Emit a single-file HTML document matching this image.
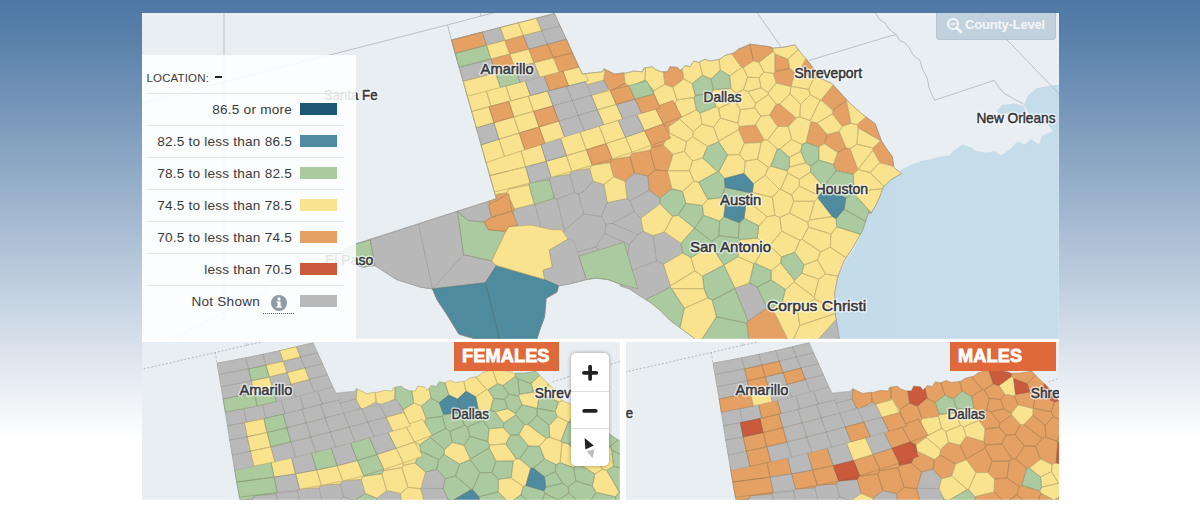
<!DOCTYPE html>
<html><head><meta charset="utf-8">
<style>
html,body{margin:0;padding:0;}
body{width:1200px;height:514px;overflow:hidden;background:linear-gradient(to bottom,#4f78a5 0px,#567ea9 30px,#ffffff 440px,#ffffff 514px);font-family:"Liberation Sans",sans-serif;position:relative;}
#wrap{position:absolute;left:142px;top:13px;width:917px;height:486.7px;background:#fff;}
svg.map{position:absolute;left:0;top:0;}
.bd{fill:none;stroke:rgb(100,95,70);stroke-width:.85px;stroke-linejoin:round;}
.lh{font-family:"Liberation Sans",sans-serif;fill:#fff;stroke:#fff;stroke-opacity:.72;fill-opacity:.72;stroke-width:3px;stroke-linejoin:round;}
.lf{font-family:"Liberation Sans",sans-serif;fill:#33353a;stroke:#33353a;stroke-width:.5px;}
#legend{position:absolute;left:142px;top:55px;width:214px;height:283.6px;background:rgba(255,255,255,.87);}
#legend .loc{position:absolute;left:4.5px;top:16.5px;font-size:11.5px;color:#3b3b3b;letter-spacing:.15px;}
#legend .loc b{font-size:14px;position:relative;top:0px;margin-left:7px;color:#222}
#legend .row{position:absolute;left:5px;width:197px;height:32px;border-top:1px solid #e1e4e8;box-sizing:border-box;}
#legend .row span{position:absolute;right:52px;top:7.5px;font-size:13.6px;color:#3a3a3a;white-space:nowrap;letter-spacing:.22px}
#legend .row i{position:absolute;left:153px;top:9px;width:37px;height:12px;display:block;}
.tag{position:absolute;top:342px;height:29px;background:#df693b;color:#fff;font-weight:bold;font-size:18.2px;line-height:29px;letter-spacing:.1px;}
.tag span{display:inline-block;-webkit-text-stroke:.8px #fff;}
#zc{position:absolute;left:571px;top:353px;width:38px;height:113px;background:#fff;border-radius:5px;box-shadow:0 0 4px rgba(0,0,0,.35);}
#zc div{position:absolute;left:0;width:38px;border-top:1px solid #ddd;}
#cl{position:absolute;left:936px;top:12.5px;width:119.6px;height:27px;border-radius:0 0 4px 4px;background:rgba(184,201,216,.8);border:1px solid rgba(175,193,210,.7);border-top:none;box-sizing:border-box;}
#cl span{position:absolute;left:28px;top:4px;font-size:13px;font-weight:bold;color:#fff;letter-spacing:-.2px;white-space:nowrap;opacity:.82}
</style></head><body>
<div id="wrap"></div>
<svg class="map" width="1200" height="514" viewBox="0 0 1200 514">
<defs>
<clipPath id="cm"><rect x="142" y="13" width="916.8" height="325.7"/></clipPath>
<clipPath id="cl1"><rect x="142" y="342" width="477.8" height="157.7"/></clipPath>
<clipPath id="cr1"><rect x="626" y="342" width="433" height="157.7"/></clipPath>
</defs>
<g clip-path="url(#cm)">
<rect x="142" y="13" width="918" height="326" fill="#e9eef2"/>
<path d="M836.0,345.0L834.0,318.0L833.5,298.0L838.0,276.0L846.0,260.0L854.0,249.0L862.0,232.0L869.0,212.0L876.0,203.0L880.0,196.0L883.0,187.0L891.0,180.0L898.0,175.0L901.6,173.6L900.0,170.4L910.9,164.9L921.8,160.8L930.0,159.5L938.1,156.7L949.0,155.4L954.5,149.9L962.7,144.5L970.8,147.2L976.3,151.3L987.2,152.6L995.4,151.3L1000.8,155.4L1009.0,149.9L1017.2,141.7L1025.3,144.5L1030.8,139.0L1039.0,144.5L1041.7,136.3L1052.6,130.8L1062.0,128.1L1062.0,345.0Z" fill="#c5dcea"/>
<path d="M1024.0,105.0L1028.1,95.4L1036.2,88.6L1047.1,85.9L1062.0,84.5L1062.0,130.8L1052.6,130.8L1047.1,124.0L1039.0,125.4L1030.8,118.6L1028.1,111.8Z" fill="#c5dcea"/>
<path d="M996.7,110.4L1002.2,105.0L1014.4,103.6L1024.0,106.3L1026.7,113.1L1017.2,114.5L1007.6,113.1L999.5,114.5Z" fill="#c5dcea"/>
<path d="M130.0,106.0L447.5,24.9L492.5,13.0L520.0,5.9M447.5,24.9L451.5,40.2M481.0,16.0L479.5,10.0M554.4,13.6L551.0,5.0M757.5,13.0L770.0,31.0L781.0,47.0M809.0,60.5L890.0,36.0L896.4,34.8M872.0,8.0L880.0,20.0L885.0,23.0L889.0,29.0L896.4,34.8L899.0,40.0L905.0,43.0L909.0,47.5L913.0,55.0L920.0,60.3L922.0,68.0L927.3,78.5L929.0,88.0L934.5,100.3M934.5,100.3L994.5,80.3L998.0,86.0L1003.6,93.0L1012.0,98.0L1023.6,104.0M979.0,10.7L981.2,13.0L1062.0,97.1M224.0,5.0L224.0,322.0M172.5,338.8L266.0,292.0L266.0,283.0L295.0,276.0L357.0,245.0" fill="none" stroke="#aeb4ba" stroke-width="0.8"/>
<defs><path id="k1" d="M468.4,50.6L468.4,50.6L468.4,50.6L468.4,50.6L468.4,50.6L468.4,50.6L468.4,50.6L468.4,50.6L468.4,50.6L468.4,50.6L468.4,50.6L486.0,45.1L486.0,45.1L486.0,45.1L486.0,45.1L486.0,45.1L486.0,45.1L486.0,45.1L486.0,45.1L486.0,45.1L486.0,45.1L486.0,45.1L486.0,45.1L486.0,45.1L486.0,45.1L486.0,45.1L486.0,45.1L486.0,45.1L482.5,32.0L482.5,32.0L482.5,32.0L482.5,32.0L482.5,32.0L482.5,32.0L482.5,32.0L482.5,32.0L482.5,32.0L482.5,32.0L482.5,32.0L482.5,32.0L482.5,32.0L482.5,32.0L482.5,32.0L482.5,32.0L482.5,32.0L464.3,36.7L451.5,40.0L451.5,40.0L451.5,40.0L451.5,40.0L451.5,40.0L451.5,40.0L451.5,40.0L451.5,40.0L451.5,40.0L451.5,40.0L451.5,40.0L451.5,40.0L451.5,40.0L451.5,40.0L451.5,40.0L451.5,40.0L451.5,40.0L455.3,53.6L455.3,53.6L455.3,53.6L455.3,53.6L455.3,53.6L455.3,53.6L455.3,53.6L455.3,53.6L455.3,53.6L455.3,53.6L455.3,53.6L455.3,53.6L455.3,53.6L455.3,53.6L455.4,53.6L455.4,53.6L455.4,53.6L467.8,50.1ZM527.6,48.5L524.5,36.7L522.3,35.1L505.8,41.3L509.0,53.6L510.7,54.9ZM510.7,54.9L509.0,53.6L491.6,59.6L495.1,72.7L496.3,73.7L514.0,67.5ZM548.9,45.3L546.1,43.4L529.8,50.1L533.0,62.3L535.3,63.9L552.0,57.1ZM548.9,45.3L552.0,57.1L554.8,59.1L571.7,51.5L566.2,39.2L565.6,37.9ZM557.7,70.0L564.5,73.5L577.9,64.9L576.9,63.0L571.7,51.5L554.8,59.1ZM567.6,86.2L564.5,73.5L557.7,70.0L545.7,78.5L548.7,90.8L567.6,86.3ZM494.0,123.0L513.4,116.8L509.3,102.2L490.5,105.5L489.4,107.8L493.7,122.8ZM558.0,120.8L553.9,106.6L552.2,105.4L534.2,111.9L538.5,126.8L539.6,127.5ZM539.6,127.5L538.5,126.8L519.4,133.4L524.0,147.9L541.8,146.3L544.1,142.2ZM603.8,80.2L608.6,89.3L611.3,90.6L625.0,83.2L624.0,73.0L622.5,73.0L615.0,74.2L610.0,71.8L604.9,69.2ZM633.3,98.3L630.3,87.0L625.0,83.2L611.3,90.6L614.9,103.7L617.7,105.5ZM683.7,78.9L682.1,68.7L680.0,71.1L677.5,67.4L670.0,66.8L667.5,71.8L663.4,71.8L664.8,84.3L672.8,87.3ZM741.6,67.5L743.1,67.8L753.4,60.7L749.8,44.3L740.0,48.6L740.0,48.0L733.8,53.0L731.6,53.6ZM653.4,92.2L636.7,100.4L640.3,113.1L657.3,110.4L659.2,106.1ZM659.2,106.1L657.3,110.4L662.0,123.3L668.5,126.7L679.6,119.0L679.9,117.8L675.1,103.1ZM591.7,165.3L609.8,162.7L611.8,159.5L606.9,144.3L605.3,143.3L587.1,150.3ZM609.8,162.7L613.7,176.8L625.0,181.3L634.4,173.2L629.9,156.6L611.8,159.5ZM669.4,133.2L668.5,126.7L662.0,123.3L645.6,131.4L651.5,147.7L663.2,145.1ZM739.4,126.6L738.6,129.6L744.4,143.1L761.3,142.4L764.2,140.0L755.5,125.1ZM649.8,150.2L631.7,153.6L629.9,156.6L634.4,173.2L647.8,176.0L655.2,169.8ZM651.5,147.7L649.8,150.2L655.2,169.8L667.4,171.0L667.9,170.7L673.0,154.4L663.2,145.1ZM773.1,51.4L772.9,48.0L772.5,48.0L770.0,46.8L756.2,44.9L750.0,44.2L749.8,44.3L753.4,60.7L759.0,62.4ZM788.1,59.3L775.0,54.0L775.0,71.6L789.7,68.5ZM791.1,86.3L794.8,72.6L789.7,68.5L775.0,71.6L773.5,73.4L776.2,83.0L790.9,86.5ZM799.9,71.0L813.5,78.8L817.7,77.1L817.5,77.0L815.0,70.5L807.5,60.5L806.0,58.8ZM846.3,100.5L846.7,99.7L833.2,85.1L821.1,99.9L832.8,110.3ZM779.6,104.1L776.2,104.3L769.6,115.1L777.7,126.5L788.4,126.5L796.0,118.0ZM832.3,113.9L842.3,126.3L851.0,123.4L846.3,100.5L832.8,110.3ZM881.2,140.3L875.2,123.8L866.1,117.0L857.1,124.6L858.3,127.9L880.6,140.7ZM873.0,150.1L879.9,162.6L893.7,166.3L892.3,156.5L887.6,150.3L881.4,140.9L881.2,140.3L880.6,140.7L873.2,148.0ZM806.2,142.6L818.8,147.0L824.2,143.5L827.2,134.6L816.9,123.1L811.0,121.6ZM837.8,152.5L846.0,147.8L839.1,131.4L827.2,134.6L824.2,143.5ZM836.2,170.6L853.3,174.2L857.9,169.6L849.9,148.6L846.0,147.8L837.8,152.5L833.5,164.5ZM647.8,176.0L649.3,190.4L659.8,198.1L671.8,188.6L667.4,171.0L655.2,169.8ZM494.0,213.9L513.0,212.4L514.5,209.1L506.9,192.7L495.2,194.7L496.3,198.7L488.6,201.2ZM494.0,213.9L445.1,311.7L446.5,313.8L458.9,334.1L474.5,338.7L474.5,345.0L503.3,345.0L525.0,298.0L513.0,212.4ZM748.0,320.9L746.9,323.2L749.3,345.0L790.5,345.0L771.9,307.9L767.0,307.9Z"/></defs><use href="#k1" fill="#e5a164" stroke="#e5a164" stroke-width="0.4"/>
<defs><path id="k2" d="M500.8,27.4L482.5,32.0L486.0,45.1L487.1,46.0L504.1,40.1ZM540.5,30.1L543.1,32.0L559.5,24.7L554.4,13.6L537.3,18.0ZM543.1,32.0L540.5,30.1L524.5,36.7L527.6,48.5L529.8,50.1L546.1,43.4ZM543.1,32.0L546.1,43.4L548.9,45.3L565.6,37.9L559.5,24.7ZM476.8,78.5L476.8,78.5L476.8,78.5L476.8,78.5L476.8,78.5L476.8,78.5L476.8,78.5L476.8,78.5L476.8,78.5L476.8,78.5L495.1,72.7L495.1,72.7L495.1,72.7L495.1,72.7L495.1,72.7L495.1,72.7L495.1,72.7L495.1,72.7L495.1,72.7L495.1,72.7L495.1,72.7L495.1,72.7L495.1,72.7L495.1,72.7L495.1,72.7L495.1,72.7L495.1,72.7L491.6,59.6L491.6,59.6L491.6,59.6L491.6,59.6L491.6,59.6L491.6,59.6L491.6,59.6L491.6,59.6L490.4,58.7L490.4,58.7L490.4,58.7L490.4,58.7L490.4,58.7L490.4,58.7L490.4,58.7L490.4,58.7L490.4,58.7L490.4,58.7L490.4,58.7L472.5,64.3L471.9,63.8L471.9,63.8L471.9,63.8L471.9,63.8L471.9,63.8L471.9,63.8L471.9,63.8L471.9,63.8L471.9,63.8L471.9,63.8L471.9,63.8L459.2,67.4L459.2,67.4L459.2,67.4L459.2,67.4L459.2,67.4L459.2,67.4L459.2,67.4L459.2,67.4L459.2,67.4L459.2,67.4L459.2,67.4L459.2,67.4L459.2,67.4L459.2,67.4L459.2,67.4L459.2,67.4L459.2,67.4L463.2,81.6L463.2,81.6L463.2,81.6L463.2,81.6L463.2,81.6L463.2,81.6L463.2,81.6L463.2,81.6L463.2,81.6L463.2,81.6L463.2,81.6L463.2,81.6L463.2,81.6L463.2,81.6L463.3,81.6L463.3,81.6L463.3,81.6L476.1,78.0L476.8,78.5ZM526.5,83.6L538.2,74.8L535.3,63.9L533.0,62.3L515.8,68.8L518.7,79.7ZM529.5,95.5L548.4,91.4L548.7,90.8L545.7,78.5L538.2,74.8L526.5,83.6ZM567.6,86.3L548.7,90.8L548.4,91.4L552.2,105.4L553.9,106.6L571.2,100.0ZM588.9,95.1L587.2,84.8L584.6,81.8L567.6,86.2L567.6,86.3L571.2,100.0L573.4,101.4ZM588.9,95.1L593.1,98.1L608.6,89.3L603.8,80.2L587.2,84.8ZM499.0,139.5L494.0,123.0L493.7,122.8L476.3,128.0L481.1,144.9ZM577.2,114.9L573.4,101.4L571.2,100.0L553.9,106.6L558.0,120.8L559.5,121.7ZM577.2,114.9L579.1,116.2L596.1,109.2L593.1,98.1L588.9,95.1L573.4,101.4ZM583.5,130.7L579.1,116.2L577.2,114.9L559.5,121.7L564.0,136.5L581.2,134.4ZM600.6,128.5L602.7,124.8L598.5,110.7L596.1,109.2L579.1,116.2L583.5,130.7ZM633.3,98.3L617.7,105.5L621.7,119.0L638.6,116.5L640.3,113.1L636.7,100.4ZM619.7,122.5L624.5,136.8L626.4,138.0L643.4,130.2L638.6,116.5L621.7,119.0ZM544.1,142.2L541.8,146.3L545.8,161.2L546.5,161.8L566.0,155.5L561.7,140.4ZM529.9,182.9L549.3,179.6L550.7,177.0L546.5,161.8L545.8,161.2L525.8,167.1ZM569.6,174.3L550.7,177.0L549.3,179.6L554.4,198.1L556.8,199.3L574.5,192.3ZM578.6,194.0L583.6,191.7L593.2,181.3L589.7,168.6L571.3,171.1L569.6,174.3L574.5,192.3ZM634.4,173.2L625.0,181.3L627.1,198.6L630.0,200.7L649.3,190.4L647.8,176.0ZM649.3,190.4L630.0,200.7L634.0,211.5L640.8,218.3L660.1,203.8L659.8,198.1ZM601.4,216.2L605.7,224.2L612.3,223.4L634.0,211.5L630.0,200.7L627.1,198.6L607.4,202.6L607.0,203.1ZM643.3,231.4L640.8,218.3L634.0,211.5L612.3,223.4L638.1,234.7ZM494.0,213.9L488.6,201.2L356.2,243.8L339.1,252.2L346.9,261.5L362.4,267.1L374.9,265.6L396.7,279.6L421.6,287.4L432.5,288.9L437.1,299.8L445.1,311.7ZM535.0,204.4L534.3,204.1L514.5,209.1L513.0,212.4L525.0,298.0L549.5,261.6ZM556.8,199.3L554.4,198.1L535.0,204.4L549.5,261.6L552.9,258.4L564.6,230.1ZM556.8,199.3L564.6,230.1L583.7,214.2L578.6,194.0L574.5,192.3ZM607.4,202.6L607.4,202.6L607.4,202.6L607.4,202.6L607.4,202.6L607.4,202.6L607.4,202.6L607.4,202.6L607.4,202.6L607.4,202.6L603.9,184.5L603.9,184.5L603.9,184.5L603.9,184.5L603.9,184.5L603.9,184.5L603.9,184.5L603.9,184.5L603.9,184.5L603.9,184.5L603.9,184.5L603.9,184.5L593.2,181.3L593.2,181.3L593.2,181.3L593.2,181.3L593.2,181.3L593.2,181.3L593.2,181.3L593.2,181.3L593.2,181.3L593.2,181.3L593.2,181.3L593.2,181.3L583.6,191.6L578.6,194.0L578.6,194.0L578.6,194.0L578.6,194.0L578.6,194.0L578.6,194.0L578.6,194.0L578.6,194.0L578.6,194.0L578.6,194.0L578.6,194.0L578.6,194.0L578.6,194.0L578.6,194.0L578.6,194.0L583.7,214.2L583.7,214.2L583.7,214.2L583.7,214.2L583.7,214.2L583.7,214.2L583.7,214.2L583.7,214.2L583.7,214.2L583.7,214.2L583.7,214.2L583.7,214.2L583.7,214.2L601.4,216.2L601.4,216.2L601.4,216.2L601.4,216.2L601.4,216.2L601.4,216.2L601.4,216.2L601.4,216.2L601.4,216.2L601.4,216.2L601.4,216.2L601.4,216.2L601.4,216.2L601.4,216.2L607.0,203.1ZM552.9,258.4L595.6,247.0L604.7,233.3L605.7,224.2L601.4,216.2L583.7,214.2L564.6,230.1ZM612.3,223.4L605.7,224.2L604.7,233.3L629.5,244.5L638.1,234.7ZM629.5,244.5L604.7,233.3L595.6,247.0L624.8,270.7ZM629.5,244.5L624.8,270.7L625.5,272.7L656.7,260.9L653.0,235.7L643.3,231.4L638.1,234.7ZM681.0,243.4L664.3,231.9L653.0,235.7L656.7,260.9L663.4,264.2L682.7,252.9ZM670.0,287.3L670.3,286.0L663.4,264.2L656.7,260.9L625.5,272.7L622.5,286.7L629.3,288.9L638.7,295.2L645.7,299.6ZM625.5,272.7L624.8,270.7L595.6,247.0L552.9,258.4L549.5,261.6L525.0,298.0L503.3,345.0L536.7,345.0L536.7,339.4L539.9,329.4L544.5,316.9L546.1,298.3L557.0,292.0L558.5,285.8L567.9,284.3L586.5,279.6L595.9,278.0L608.3,279.6L620.8,284.3L620.0,285.8L622.5,286.7ZM735.0,288.2L734.8,288.7L748.0,320.9L767.0,307.9L757.3,287.0L749.4,283.1ZM813.2,345.0L839.4,345.0L839.4,339.4L837.9,329.4L836.2,319.4Z"/></defs><use href="#k2" fill="#b9b9b9" stroke="#b9b9b9" stroke-width="0.4"/>
<defs><path id="k3" d="M522.3,35.1L519.0,22.7L500.8,27.4L504.1,40.1L505.8,41.3ZM540.5,30.1L537.3,18.0L519.0,22.7L522.3,35.1L524.5,36.7ZM504.1,40.1L487.1,46.0L490.4,58.7L491.6,59.6L509.0,53.6L505.8,41.3ZM529.8,50.1L527.6,48.5L510.7,54.9L514.0,67.5L515.8,68.8L533.0,62.3ZM496.3,73.6L496.3,73.6L496.3,73.6L496.3,73.6L496.3,73.6L496.3,73.6L496.3,73.6L495.1,72.7L495.1,72.7L495.1,72.7L495.1,72.7L495.1,72.7L495.1,72.7L495.1,72.7L495.1,72.7L495.1,72.7L495.1,72.7L495.1,72.7L476.8,78.5L476.1,78.0L476.1,78.0L476.1,78.0L476.1,78.0L476.1,78.0L476.1,78.0L476.1,78.0L476.1,78.0L476.1,78.0L476.1,78.0L463.2,81.6L463.2,81.6L463.2,81.6L463.2,81.6L463.2,81.6L463.2,81.6L463.2,81.6L463.2,81.6L463.2,81.6L463.2,81.6L463.2,81.6L463.2,81.6L463.2,81.6L463.2,81.6L463.2,81.6L463.2,81.6L463.2,81.6L468.1,98.7L468.1,98.7L468.1,98.7L468.1,98.7L468.1,98.7L468.1,98.7L468.1,98.7L468.1,98.7L468.1,98.7L468.1,98.7L468.1,98.7L468.1,98.7L468.1,98.7L468.1,98.7L468.1,98.7L468.1,98.7L468.1,98.7L468.1,98.7L468.1,98.7L468.1,98.7L468.1,98.7L479.8,90.0L487.4,94.0L487.4,94.0L487.4,94.0L487.4,94.0L487.4,94.0L487.4,94.0L487.4,94.0L487.4,94.0L487.4,94.0L487.4,94.0L487.4,94.0L487.4,94.0L487.4,94.0L499.2,84.8L499.2,84.8L499.2,84.8L499.2,84.8L499.2,84.8L499.2,84.8L499.2,84.8L499.2,84.8L499.2,84.8L499.2,84.8L499.2,84.8L499.2,84.8L499.2,84.8L496.3,73.6ZM535.3,63.9L538.2,74.8L545.7,78.5L557.7,70.0L554.8,59.1L552.0,57.1ZM489.4,107.8L490.5,105.5L487.4,94.0L479.8,90.0L468.1,98.7L471.5,110.7ZM499.2,84.8L487.4,94.0L490.5,105.5L509.3,102.2L510.1,100.4L507.1,88.8ZM507.1,88.8L510.1,100.4L529.0,96.7L529.5,95.5L526.5,83.6L518.7,79.7ZM564.5,73.5L567.6,86.2L584.6,81.8L584.7,73.8L582.5,74.2L577.9,64.9ZM493.7,122.8L489.4,107.8L471.5,110.7L476.3,128.0ZM529.0,96.7L510.1,100.4L509.3,102.2L513.4,116.8L514.2,117.4L532.9,111.0ZM529.5,95.5L529.0,96.7L532.9,111.0L534.2,111.9L552.2,105.4L548.4,91.4ZM499.0,139.5L499.0,139.5L518.9,133.1L514.2,117.4L513.4,116.8L494.0,123.0ZM519.4,133.4L538.5,126.8L534.2,111.9L532.9,111.0L514.2,117.4L518.9,133.1ZM611.3,90.6L608.6,89.3L593.1,98.1L596.1,109.2L598.5,110.7L614.9,103.7ZM564.0,136.5L559.5,121.7L558.0,120.8L539.6,127.5L544.1,142.2L561.7,140.4ZM614.9,103.7L598.5,110.7L602.7,124.8L619.7,122.5L621.7,119.0L617.7,105.5ZM644.9,80.2L645.5,67.8L643.8,68.0L642.5,71.8L633.8,71.1L626.2,73.0L624.0,73.0L625.0,83.2L630.3,87.0ZM663.4,71.8L661.2,71.8L655.0,69.2L652.5,66.8L645.5,67.8L644.9,80.2L653.8,90.8L664.8,84.3ZM699.3,62.1L698.8,62.4L693.8,61.1L690.0,66.8L685.0,65.5L682.1,68.7L683.7,78.9L692.1,83.5L702.6,75.2ZM720.3,70.2L719.0,59.4L710.0,61.1L705.0,59.2L699.3,62.1L702.6,75.2L711.0,79.1ZM731.6,53.6L725.0,55.5L720.0,59.2L719.0,59.4L720.3,70.2L729.6,75.8L741.6,67.5ZM672.8,87.3L664.8,84.3L653.8,90.8L653.4,92.2L659.2,106.1L675.1,103.1L676.9,99.9ZM694.0,97.5L695.3,95.5L692.1,83.5L683.7,78.9L672.8,87.3L676.9,99.9ZM743.1,67.8L741.6,67.5L729.6,75.8L730.9,88.4L736.0,92.8L743.4,89.9L747.7,77.2ZM759.0,77.7L763.9,72.0L759.0,62.4L753.4,60.7L743.1,67.8L747.7,77.2ZM743.4,89.9L747.8,91.5L761.1,87.8L759.0,77.7L747.7,77.2ZM768.3,92.7L761.1,87.8L747.8,91.5L755.6,103.3L768.5,94.4ZM675.1,103.1L679.9,117.8L696.4,109.9L694.0,97.5L676.9,99.9ZM715.9,106.6L718.6,108.4L734.8,100.9L736.0,92.8L730.9,88.4L713.5,89.7L711.1,93.4ZM734.8,100.9L718.6,108.4L720.4,118.0L737.8,123.1L740.3,109.7ZM743.4,89.9L736.0,92.8L734.8,100.9L740.3,109.7L754.5,107.9L755.6,103.3L747.8,91.5ZM740.3,109.7L737.8,123.1L739.4,126.6L755.5,125.1L760.9,116.1L754.5,107.9ZM640.3,113.1L638.6,116.5L643.4,130.2L645.6,131.4L662.0,123.3L657.3,110.4ZM679.6,119.0L693.4,131.5L702.1,124.2L700.1,113.0L696.4,109.9L679.9,117.8ZM713.5,127.2L720.4,118.0L718.6,108.4L715.9,106.6L700.1,113.0L702.1,124.2ZM501.3,158.2L503.5,153.6L499.0,139.5L499.0,139.5L481.1,144.9L485.1,159.0ZM524.0,147.9L519.4,133.4L518.9,133.1L499.0,139.5L503.5,153.6L521.7,152.3ZM521.7,152.3L521.7,152.3L521.7,152.3L521.7,152.3L521.7,152.3L521.7,152.3L521.7,152.3L521.7,152.3L521.7,152.3L521.7,152.3L521.7,152.2L521.7,152.2L521.7,152.2L521.7,152.2L503.5,153.6L503.5,153.6L503.5,153.6L503.5,153.6L503.5,153.6L503.5,153.6L503.5,153.6L503.5,153.6L503.5,153.6L503.5,153.6L503.5,153.6L503.5,153.6L501.3,158.2L485.1,159.0L485.1,159.0L485.1,159.0L485.1,159.0L485.1,159.0L485.1,159.0L485.1,159.0L485.1,159.0L485.1,159.0L485.1,159.0L485.1,159.0L485.1,159.0L485.1,159.0L485.1,159.0L485.1,159.0L485.1,159.0L485.1,159.0L485.1,159.0L485.1,159.0L489.8,175.6L489.8,175.6L489.8,175.7L489.8,175.7L489.8,175.7L489.8,175.7L489.8,175.7L489.8,175.7L489.8,175.7L489.8,175.7L489.8,175.7L489.8,175.7L489.8,175.7L489.8,175.7L489.8,175.7L489.8,175.7L489.8,175.7L504.7,172.2L504.8,172.3L504.8,172.3L504.8,172.3L504.8,172.3L504.8,172.3L504.8,172.3L504.8,172.3L504.8,172.3L504.8,172.3L504.8,172.3L525.4,166.8L525.4,166.8L525.4,166.8L525.4,166.8L525.4,166.8L525.4,166.8L525.4,166.8L525.4,166.8L525.4,166.8L525.4,166.8L525.4,166.8L525.4,166.8L525.4,166.8L525.4,166.8L525.4,166.8L525.4,166.8L525.4,166.8L521.7,152.3ZM545.8,161.2L541.8,146.3L524.0,147.9L521.7,152.3L525.4,166.8L525.8,167.1ZM581.2,134.4L564.0,136.5L561.7,140.4L566.0,155.5L567.0,156.2L585.8,149.5ZM587.1,150.3L605.3,143.3L600.6,128.5L583.5,130.7L581.2,134.4L585.8,149.5ZM606.9,144.3L624.5,136.8L619.7,122.5L602.7,124.8L600.6,128.5L605.3,143.3ZM525.4,166.8L525.4,166.8L525.4,166.8L525.4,166.8L525.4,166.8L525.4,166.8L525.4,166.8L525.4,166.8L525.4,166.8L504.8,172.2L504.7,172.1L504.7,172.1L504.7,172.1L504.7,172.1L504.7,172.1L504.7,172.1L504.7,172.1L504.7,172.1L504.7,172.1L504.7,172.1L489.8,175.6L489.8,175.6L489.8,175.6L489.8,175.6L489.8,175.6L489.8,175.6L489.8,175.6L489.8,175.6L489.8,175.6L489.8,175.6L489.8,175.6L489.8,175.6L489.8,175.6L489.8,175.6L489.8,175.6L489.8,175.6L489.8,175.6L495.2,194.7L495.2,194.7L495.2,194.7L495.2,194.7L495.2,194.7L495.2,194.7L495.2,194.7L495.2,194.7L495.2,194.7L495.2,194.7L495.2,194.7L495.2,194.7L495.2,194.7L495.2,194.7L495.2,194.7L495.2,194.7L506.9,192.8L506.9,192.8L506.9,192.8L506.9,192.8L506.9,192.8L506.9,192.8L506.9,192.8L506.9,192.7L506.9,192.7L506.9,192.7L508.9,188.9L529.0,184.7L529.0,184.7L529.0,184.7L529.0,184.7L529.0,184.7L529.0,184.7L529.0,184.7L529.0,184.7L529.0,184.7L529.0,184.7L530.0,182.9L530.0,182.9L530.0,182.9L530.0,182.9L530.0,182.9L530.0,182.9L530.0,182.9L530.0,182.9L530.0,182.9L525.8,167.1L525.8,167.1L525.8,167.1L525.8,167.1L525.8,167.1L525.8,167.1L525.8,167.1L525.8,167.1L525.4,166.8ZM571.3,171.1L567.0,156.2L566.0,155.5L546.5,161.8L550.7,177.0L569.6,174.3ZM589.7,168.6L591.7,165.3L587.1,150.3L585.8,149.5L567.0,156.2L571.3,171.1ZM611.8,159.5L629.9,156.6L631.7,153.6L626.4,138.0L624.5,136.8L606.9,144.3ZM593.2,181.3L603.9,184.5L613.7,176.8L609.8,162.7L591.7,165.3L589.7,168.6ZM627.1,198.6L625.0,181.3L613.7,176.8L603.9,184.5L607.4,202.6ZM649.8,150.2L651.5,147.7L645.6,131.4L643.4,130.2L626.4,138.0L631.7,153.6ZM686.7,141.7L692.5,136.7L693.4,131.5L679.6,119.0L668.5,126.7L669.4,133.2ZM718.6,141.8L718.7,141.2L713.5,127.2L702.1,124.2L693.4,131.5L692.5,136.7L707.6,146.4ZM737.8,123.1L720.4,118.0L713.5,127.2L718.7,141.2L738.6,129.6L739.4,126.6ZM739.3,154.6L744.4,143.1L738.6,129.6L718.7,141.2L718.6,141.8L727.6,154.9ZM744.4,143.1L739.3,154.6L745.3,161.1L757.5,159.2L761.3,142.4ZM673.0,154.4L684.4,151.3L686.7,141.7L669.4,133.2L663.2,145.1ZM684.4,151.3L692.5,160.9L702.6,158.1L707.6,146.4L692.5,136.7L686.7,141.7ZM739.3,154.6L727.6,154.9L718.8,171.7L724.4,178.5L744.0,173.4L745.3,161.1ZM757.5,159.2L745.3,161.1L744.0,173.4L753.4,183.7L765.3,175.3L768.3,167.3ZM667.9,170.7L689.5,170.7L692.5,160.9L684.4,151.3L673.0,154.4ZM692.5,160.9L689.5,170.7L693.9,181.0L698.6,182.2L717.7,171.6L702.6,158.1ZM788.1,59.3L798.2,49.2L795.0,44.9L782.5,47.4L772.9,48.0L773.1,51.4L775.0,54.0ZM788.1,59.3L789.7,68.5L794.8,72.6L799.9,71.0L806.0,58.8L800.0,51.8L798.2,49.2ZM763.9,72.0L773.5,73.4L775.0,71.6L775.0,54.0L773.1,51.4L759.0,62.4ZM808.6,89.4L813.5,78.8L799.9,71.0L794.8,72.6L791.1,86.3ZM761.1,87.8L768.3,92.7L776.2,83.0L773.5,73.4L763.9,72.0L759.0,77.7ZM776.2,104.3L779.6,104.1L790.0,93.8L790.9,86.5L776.2,83.0L768.3,92.7L768.5,94.4ZM790.0,93.8L800.6,104.4L810.3,94.7L808.6,89.4L791.1,86.3L790.9,86.5ZM833.2,85.1L831.6,83.3L817.7,77.1L813.5,78.8L808.6,89.4L810.3,94.7L820.2,100.1L821.1,99.9ZM755.6,103.3L754.5,107.9L760.9,116.1L769.6,115.1L776.2,104.3L768.5,94.4ZM800.6,104.4L790.0,93.8L779.6,104.1L796.0,118.0L799.8,116.9ZM820.2,100.1L810.3,94.7L800.6,104.4L799.8,116.9L810.1,120.6ZM846.3,100.5L851.0,123.4L857.1,124.6L866.1,117.0L862.7,114.5L850.3,103.6L846.7,99.7ZM816.9,123.1L832.3,113.9L832.8,110.3L821.1,99.9L820.2,100.1L810.1,120.6L811.0,121.6ZM827.2,134.6L839.1,131.4L842.3,126.3L832.3,113.9L816.9,123.1ZM755.5,125.1L764.2,140.0L767.6,140.0L777.7,126.5L769.6,115.1L760.9,116.1ZM810.1,120.6L799.8,116.9L796.0,118.0L788.4,126.5L791.7,139.3L802.1,144.5L806.2,142.6L811.0,121.6ZM858.3,127.9L857.1,124.6L851.0,123.4L842.3,126.3L839.1,131.4L846.0,147.8L849.9,148.6L856.9,144.2ZM880.6,140.7L858.3,127.9L856.9,144.2L873.2,148.0ZM856.9,144.2L849.9,148.6L857.9,169.6L858.1,169.5L873.0,150.1L873.2,148.0ZM791.7,139.3L788.4,126.5L777.7,126.5L767.6,140.0L777.4,149.0L779.8,148.9ZM770.8,166.1L777.4,149.0L767.6,140.0L764.2,140.0L761.3,142.4L757.5,159.2L768.3,167.3ZM802.1,144.5L791.7,139.3L779.8,148.9L789.4,157.2L800.7,151.5ZM818.8,160.0L833.5,164.5L837.8,152.5L824.2,143.5L818.8,147.0ZM789.4,157.2L789.4,167.1L805.8,162.8L800.7,151.5ZM858.1,169.5L870.0,172.5L879.9,162.6L873.0,150.1ZM879.9,162.6L870.0,172.5L884.0,186.5L890.7,179.8L901.6,173.6L893.8,167.4L893.7,166.3ZM857.9,169.6L853.3,174.2L854.1,191.2L882.6,188.8L882.9,187.6L884.0,186.5L870.0,172.5L858.1,169.5ZM854.1,191.2L853.3,192.9L871.2,212.9L875.2,206.3L879.8,196.9L882.6,188.8ZM810.6,172.2L810.6,166.2L805.8,162.8L789.4,167.1L787.1,170.8L787.9,173.0L799.4,179.3ZM787.9,173.0L787.1,170.8L770.8,166.1L768.3,167.3L765.3,175.3L779.5,189.5L780.4,189.3ZM772.4,197.2L779.5,189.5L765.3,175.3L753.4,183.7L752.3,192.6ZM791.5,194.8L799.4,186.0L799.4,179.3L787.9,173.0L780.4,189.3ZM818.9,195.7L823.8,190.0L823.8,186.4L810.6,172.2L799.4,179.3L799.4,186.0ZM793.9,201.3L814.5,201.3L818.0,198.0L818.9,195.7L799.4,186.0L791.5,194.8ZM779.5,189.5L772.4,197.2L774.9,215.3L779.7,217.5L789.4,213.1L793.9,201.3L791.5,194.8L780.4,189.3ZM772.4,197.2L752.3,192.6L751.9,193.0L749.3,202.4L767.2,216.7L774.9,215.3ZM789.4,213.1L807.9,222.4L809.5,220.0L814.5,201.3L793.9,201.3ZM809.5,220.0L832.4,216.6L818.0,198.0L814.5,201.3ZM667.4,171.0L671.8,188.6L682.5,191.5L693.9,181.0L689.5,170.7L667.9,170.7ZM707.8,199.2L698.6,182.2L693.9,181.0L682.5,191.5L685.9,203.4L702.3,205.5ZM707.8,199.2L702.3,205.5L703.5,215.3L719.7,221.1L723.9,216.5L725.4,204.3L721.1,197.8ZM653.0,235.7L664.3,231.9L672.6,216.3L660.1,203.8L640.8,218.3L643.3,231.4ZM749.3,202.4L745.6,205.7L744.0,218.3L758.8,225.8L767.2,216.7ZM672.6,216.3L664.3,231.9L681.0,243.4L694.4,228.1L678.1,215.0ZM508.9,188.9L506.9,192.7L514.5,209.1L534.3,204.1L529.0,184.7ZM694.8,270.9L691.0,257.6L682.7,252.9L663.4,264.2L670.3,286.0ZM723.8,265.1L711.2,245.5L691.0,257.6L694.8,270.9L702.6,276.2ZM671.4,288.6L704.1,288.6L702.6,276.2L694.8,270.9L670.3,286.0L670.0,287.3ZM767.2,216.7L758.8,225.8L757.3,238.1L765.4,245.6L769.5,245.6L781.8,231.2L779.7,217.5L774.9,215.3ZM779.7,217.5L781.8,231.2L800.0,240.3L802.0,239.3L808.5,227.1L807.9,222.4L789.4,213.1ZM807.9,222.4L808.5,227.1L830.9,234.0L836.8,226.9L836.0,218.6L832.4,216.6L809.5,220.0ZM830.3,247.2L846.2,257.8L853.4,246.9L860.4,234.2L836.8,226.9L830.9,234.0ZM820.7,251.8L830.3,247.2L830.9,234.0L808.5,227.1L802.0,239.3ZM781.8,231.2L769.5,245.6L781.6,256.9L794.7,252.3L800.0,240.3ZM753.9,263.7L754.9,263.2L765.4,245.6L757.3,238.1L739.8,239.5L737.9,256.6ZM771.2,270.7L780.7,263.0L781.6,256.9L769.5,245.6L765.4,245.6L754.9,263.2ZM800.0,240.3L794.7,252.3L804.1,264.9L817.4,260.1L820.7,251.8L802.0,239.3ZM825.5,274.0L838.0,276.1L844.1,260.9L846.2,257.8L830.3,247.2L820.7,251.8L817.4,260.1ZM804.1,264.9L801.7,273.2L818.8,279.1L825.5,274.0L817.4,260.1ZM753.9,263.7L737.9,256.6L723.8,265.2L735.0,288.2L749.4,283.1ZM794.2,282.1L794.6,280.4L780.7,263.0L771.2,270.7L771.2,279.9L785.4,289.5ZM684.4,308.2L707.7,297.9L704.1,288.6L671.4,288.6ZM707.7,297.9L684.4,308.2L679.9,327.6L682.2,329.4L694.7,338.7L694.7,345.0L698.2,345.0L716.5,316.8L712.3,300.3ZM782.4,301.1L797.4,309.6L815.0,298.9L814.2,297.0L794.2,282.1L785.4,289.5ZM790.5,345.0L791.0,345.0L799.7,325.4L797.4,309.6L782.4,301.1L771.9,307.9ZM815.0,298.9L797.4,309.6L799.7,325.4L835.2,313.6L834.8,310.7L834.8,310.1ZM836.2,319.4L835.2,313.6L799.7,325.4L791.0,345.0L813.2,345.0ZM794.6,280.4L794.2,282.1L814.2,297.0L818.8,279.1L801.7,273.2ZM814.2,297.0L815.0,298.9L834.8,310.1L834.8,292.0L837.9,276.5L838.0,276.1L825.5,274.0L818.8,279.1ZM584.6,81.8L587.2,84.8L603.8,80.2L604.9,69.2L603.8,68.6L602.5,71.8L590.0,73.0L584.7,73.8Z"/></defs><use href="#k3" fill="#fae38e" stroke="#fae38e" stroke-width="0.4"/>
<defs><path id="k4" d="M486.0,45.1L486.0,45.1L486.0,45.1L486.0,45.1L486.0,45.1L486.0,45.1L486.0,45.1L486.0,45.1L486.0,45.1L486.0,45.1L468.4,50.6L467.8,50.1L467.8,50.1L467.8,50.1L467.8,50.1L467.8,50.1L467.8,50.1L467.8,50.1L467.8,50.1L467.8,50.1L467.8,50.1L467.8,50.1L455.3,53.6L455.3,53.6L455.3,53.6L455.3,53.6L455.3,53.6L455.3,53.6L455.3,53.6L455.3,53.6L455.3,53.6L455.3,53.6L455.3,53.6L455.3,53.6L455.3,53.6L455.3,53.6L455.3,53.6L455.3,53.6L455.3,53.6L459.2,67.4L459.2,67.4L459.2,67.4L459.2,67.4L459.2,67.4L459.2,67.4L459.2,67.4L459.2,67.4L459.2,67.4L459.2,67.4L459.2,67.4L459.2,67.4L459.2,67.4L459.2,67.4L459.2,67.4L459.2,67.4L459.2,67.4L471.9,63.8L472.5,64.3L472.5,64.3L472.5,64.4L472.5,64.4L472.5,64.4L472.5,64.4L472.5,64.4L472.5,64.4L472.5,64.4L472.5,64.4L472.6,64.4L490.4,58.7L490.4,58.7L490.4,58.7L490.4,58.7L490.4,58.7L490.4,58.7L490.4,58.7L490.4,58.7L490.4,58.7L490.4,58.7L490.4,58.7L490.4,58.7L490.4,58.7L490.4,58.7L490.4,58.7L490.4,58.7L487.1,46.0L487.1,46.0L487.1,46.0L487.1,46.0L487.1,46.0L487.1,46.0L487.1,46.0L487.1,46.0L486.0,45.1ZM515.8,68.8L514.0,67.5L496.3,73.7L499.2,84.8L507.1,88.8L518.7,79.7ZM653.4,92.2L653.8,90.8L644.9,80.2L630.3,87.0L633.3,98.3L636.7,100.4ZM713.5,89.7L711.0,79.1L702.6,75.2L692.1,83.5L695.3,95.5L711.1,93.4ZM730.9,88.4L729.6,75.8L720.3,70.2L711.0,79.1L713.5,89.7ZM700.1,113.0L715.9,106.6L711.1,93.4L695.3,95.5L694.0,97.5L696.4,109.9ZM549.3,179.6L529.9,182.9L529.0,184.7L534.3,204.1L535.0,204.4L554.4,198.1ZM717.7,171.6L718.8,171.7L727.6,154.9L718.6,141.8L707.6,146.4L702.6,158.1ZM789.4,167.1L789.4,157.2L779.8,148.9L777.4,149.0L770.8,166.1L787.1,170.8ZM806.2,142.6L802.1,144.5L800.7,151.5L805.8,162.8L810.6,166.2L818.8,160.0L818.8,147.0ZM810.6,166.2L810.6,172.2L823.8,186.4L836.2,170.6L833.5,164.5L818.8,160.0ZM853.3,192.9L854.1,191.2L853.3,174.2L836.2,170.6L823.8,186.4L823.8,190.0L845.8,197.8ZM844.0,209.3L865.6,221.3L869.0,211.1L870.5,214.1L871.2,212.9L853.3,192.9L845.8,197.8ZM725.2,187.4L724.4,178.5L718.8,171.7L717.7,171.6L698.6,182.2L707.8,199.2L721.1,197.8ZM725.2,187.4L721.1,197.8L725.4,204.3L745.6,205.7L749.3,202.4L751.9,193.0ZM659.8,198.1L660.1,203.8L672.6,216.3L678.1,215.0L685.9,203.4L682.5,191.5L671.8,188.6ZM702.3,205.5L685.9,203.4L678.1,215.0L694.4,228.1L694.7,228.1L703.5,215.3ZM694.7,228.1L711.8,241.5L718.8,235.7L719.7,221.1L703.5,215.3ZM719.7,221.1L718.8,235.7L738.3,238.0L739.3,222.8L723.9,216.5ZM738.3,238.0L739.8,239.5L757.3,238.1L758.8,225.8L744.0,218.3L739.3,222.8ZM694.4,228.1L681.0,243.4L682.7,252.9L691.0,257.6L711.2,245.5L711.8,241.5L694.7,228.1ZM723.8,265.2L723.8,265.1L702.6,276.2L704.1,288.6L707.7,297.9L712.3,300.3L734.8,288.7L735.0,288.2ZM711.8,241.5L711.2,245.5L723.8,265.1L723.8,265.2L737.9,256.6L739.8,239.5L738.3,238.0L718.8,235.7ZM860.4,234.2L862.8,229.8L865.6,221.3L844.0,209.3L836.0,218.6L836.8,226.9ZM781.6,256.9L780.7,263.0L794.6,280.4L801.7,273.2L804.1,264.9L794.7,252.3ZM757.3,287.0L771.2,279.9L771.2,270.7L754.9,263.2L753.9,263.7L749.4,283.1ZM645.7,299.6L651.1,302.9L660.5,310.7L669.8,320.1L679.9,327.6L684.4,308.2L671.4,288.6L670.0,287.3ZM734.8,288.7L712.3,300.3L716.5,316.8L746.9,323.2L748.0,320.9ZM746.9,323.2L716.5,316.8L698.2,345.0L749.3,345.0ZM771.9,307.9L782.4,301.1L785.4,289.5L771.2,279.9L757.3,287.0L767.0,307.9Z"/></defs><use href="#k4" fill="#abcb9f" stroke="#abcb9f" stroke-width="0.4"/>
<defs><path id="k5" d="M832.4,216.6L836.0,218.6L844.0,209.3L845.8,197.8L823.8,190.0L818.9,195.7L818.0,198.0ZM752.3,192.6L753.4,183.7L744.0,173.4L724.4,178.5L725.2,187.4L751.9,193.0ZM723.9,216.5L739.3,222.8L744.0,218.3L745.6,205.7L725.4,204.3Z"/></defs><use href="#k5" fill="#4f8ba0" stroke="#4f8ba0" stroke-width="0.4"/>
<g opacity="0.2" class="bd" stroke-dasharray="1.6,0.9"><use href="#k2"/></g>
<g opacity="0.32" class="bd"><use href="#k1"/><use href="#k3"/><use href="#k4"/><use href="#k5"/></g>
<defs><path id="k6" d="M525.6,166.8L546.2,161.4L540.5,143.0L520.4,148.2ZM566.5,155.7L586.4,149.8L579.8,132.0L560.3,137.6ZM586.4,149.8L606.1,143.6L599.0,126.2L579.8,132.0ZM606.1,143.6L625.5,137.3L617.9,120.1L599.0,126.2ZM644.5,130.7L663.3,123.9L654.8,107.2L636.5,113.8ZM551.1,177.3L571.8,171.4L566.5,155.7L546.2,161.4ZM571.8,171.4L592.2,165.2L586.4,149.8L566.5,155.7ZM612.3,158.9L632.0,152.2L625.5,137.3L606.1,143.6ZM632.0,152.2L651.5,145.4L644.5,130.7L625.5,137.3ZM525.6,166.8L520.4,148.2L484.4,156.7L489.8,175.6ZM530.1,183.0L525.6,166.8L489.8,175.6L494.4,192.0Z"/></defs><use href="#k6" fill="#fae38e" stroke="#fae38e" stroke-width="0.4"/>
<defs><path id="k7" d="M546.2,161.4L566.5,155.7L560.3,137.6L540.5,143.0ZM625.5,137.3L644.5,130.7L636.5,113.8L617.9,120.1ZM530.1,183.0L551.1,177.3L546.2,161.4L525.6,166.8Z"/></defs><use href="#k7" fill="#b9b9b9" stroke="#b9b9b9" stroke-width="0.4"/>
<defs><path id="k8" d="M663.3,123.9L681.7,116.8L672.8,100.5L654.8,107.2ZM592.2,165.2L612.3,158.9L606.1,143.6L586.4,149.8ZM651.5,145.4L670.7,138.3L663.3,123.9L644.5,130.7Z"/></defs><use href="#k8" fill="#e5a164" stroke="#e5a164" stroke-width="0.4"/>
<g opacity="0.2" class="bd" stroke-dasharray="1.6,0.9"><use href="#k7"/></g>
<g opacity="0.32" class="bd"><use href="#k6"/><use href="#k8"/></g>
<defs><path id="k9" d="M491.0,106.2L485.8,89.1L466.7,93.9L471.7,111.5ZM491.0,106.2L510.7,100.8L505.4,84.2L485.8,89.1ZM510.7,100.8L530.3,95.7L524.7,79.5L505.4,84.2ZM568.6,85.8L588.3,80.9L585.3,73.7L582.5,74.2L578.9,67.0L562.6,70.6ZM493.9,122.7L489.0,106.7L471.7,111.5L476.3,127.9ZM513.8,116.9L533.6,111.3L528.3,96.2L508.8,101.4ZM533.6,111.3L553.0,105.8L547.6,91.1L528.3,96.2ZM499.0,139.3L519.2,133.0L513.8,116.9L493.9,122.7ZM519.2,133.0L539.1,127.0L533.6,111.3L513.8,116.9ZM597.4,109.8L616.3,104.4L610.1,90.4L591.3,95.4ZM504.5,156.4L499.0,139.3L481.1,144.9L486.1,162.6ZM504.5,156.4L524.8,149.8L519.2,133.0L499.0,139.3ZM544.9,143.3L564.7,136.9L558.7,121.1L539.1,127.0ZM603.7,124.8L622.8,118.9L616.3,104.4L597.4,109.8Z"/></defs><use href="#k9" fill="#fae38e" stroke="#fae38e" stroke-width="0.4"/>
<defs><path id="k10" d="M530.3,95.7L549.5,90.6L543.8,75.0L524.7,79.5ZM553.0,105.8L572.3,100.5L566.7,86.3L547.6,91.1ZM572.3,100.5L591.3,95.4L585.5,81.6L566.7,86.3ZM499.0,139.3L493.9,122.7L476.3,127.9L481.1,144.9ZM558.7,121.1L578.2,115.3L572.3,100.5L553.0,105.8ZM578.2,115.3L597.4,109.8L591.3,95.4L572.3,100.5ZM564.7,136.9L584.3,130.8L578.2,115.3L558.7,121.1ZM584.3,130.8L603.7,124.8L597.4,109.8L578.2,115.3ZM622.8,118.9L641.7,113.3L635.0,99.1L616.3,104.4Z"/></defs><use href="#k10" fill="#b9b9b9" stroke="#b9b9b9" stroke-width="0.4"/>
<defs><path id="k11" d="M549.5,90.6L568.6,85.8L562.6,70.6L543.8,75.0ZM493.9,122.7L513.8,116.9L508.8,101.4L489.0,106.7ZM539.1,127.0L558.7,121.1L553.0,105.8L533.6,111.3ZM616.3,104.4L635.0,99.1L628.6,85.6L610.1,90.4ZM524.8,149.8L544.9,143.3L539.1,127.0L519.2,133.0ZM641.7,113.3L660.4,107.8L653.5,94.1L635.0,99.1Z"/></defs><use href="#k11" fill="#e5a164" stroke="#e5a164" stroke-width="0.4"/>
<defs><path id="k12" d="M635.0,99.1L653.5,94.1L646.9,81.0L628.6,85.6Z"/></defs><use href="#k12" fill="#abcb9f" stroke="#abcb9f" stroke-width="0.4"/>
<g opacity="0.2" class="bd" stroke-dasharray="1.6,0.9"><use href="#k10"/></g>
<g opacity="0.32" class="bd"><use href="#k9"/><use href="#k11"/><use href="#k12"/></g>
<defs><path id="k13" d="M486.4,45.2L482.2,32.2L451.6,40.2L455.3,53.4ZM509.8,54.1L528.7,49.2L523.3,35.5L504.8,40.4ZM495.6,72.8L514.8,67.8L509.8,54.1L491.0,59.0ZM534.0,62.8L553.3,57.7L547.5,44.2L528.7,49.2ZM553.3,57.7L572.3,52.8L566.3,39.3L547.5,44.2ZM559.4,72.1L578.9,67.0L576.9,63.0L572.3,52.8L553.3,57.7Z"/></defs><use href="#k13" fill="#e5a164" stroke="#e5a164" stroke-width="0.4"/>
<defs><path id="k14" d="M486.4,45.2L504.8,40.4L500.2,27.5L496.1,28.5L482.2,32.2ZM541.7,30.7L560.1,25.9L554.4,13.6L536.4,18.2ZM528.7,49.2L547.5,44.2L541.7,30.7L523.3,35.5ZM547.5,44.2L566.3,39.3L566.2,39.2L560.1,25.9L541.7,30.7ZM495.6,72.8L491.0,59.0L459.2,67.3L463.2,81.3ZM520.1,82.4L539.8,77.2L534.0,62.8L514.8,67.8Z"/></defs><use href="#k14" fill="#b9b9b9" stroke="#b9b9b9" stroke-width="0.4"/>
<defs><path id="k15" d="M504.8,40.4L523.3,35.5L518.3,22.9L500.2,27.5ZM523.3,35.5L541.7,30.7L536.4,18.2L518.3,22.9ZM491.0,59.0L509.8,54.1L504.8,40.4L486.4,45.2ZM514.8,67.8L534.0,62.8L528.7,49.2L509.8,54.1ZM500.4,87.5L495.6,72.8L463.2,81.3L467.4,96.2ZM539.8,77.2L559.4,72.1L553.3,57.7L534.0,62.8Z"/></defs><use href="#k15" fill="#fae38e" stroke="#fae38e" stroke-width="0.4"/>
<defs><path id="k16" d="M491.0,59.0L486.4,45.2L455.3,53.4L459.2,67.3ZM500.4,87.5L520.1,82.4L514.8,67.8L495.6,72.8Z"/></defs><use href="#k16" fill="#abcb9f" stroke="#abcb9f" stroke-width="0.4"/>
<g opacity="0.2" class="bd" stroke-dasharray="1.6,0.9"><use href="#k14"/></g>
<g opacity="0.32" class="bd"><use href="#k13"/><use href="#k15"/><use href="#k16"/></g>
<defs><path id="k17" d="M356.2,243.8L339.1,252.2L346.9,261.5L362.4,267.1L374.9,265.6L370.2,239.9ZM457.4,211.4L463.6,254.7L491.6,260.9L505.6,231.4L488.5,229.8L483.8,222.0L468.3,220.5ZM578.8,256.3L586.5,279.6L595.9,278.0L608.3,279.6L620.8,284.3L637.9,288.9L623.9,242.2Z"/></defs><use href="#k17" fill="#abcb9f" stroke="#abcb9f" stroke-width="0.4"/>
<defs><path id="k18" d="M370.2,239.9L374.9,265.6L396.7,279.6L421.6,287.4L432.5,288.9L418.5,224.2ZM418.5,224.2L432.5,288.9L463.6,254.7L457.4,211.4ZM463.6,254.7L432.5,288.9L485.4,282.7L496.3,265.6L491.6,260.9ZM549.2,250.0L552.3,267.1L543.0,270.3L544.5,279.6L558.5,285.8L567.9,284.3L586.5,279.6L578.8,256.3L574.1,240.7L567.9,239.1ZM457.4,211.4L468.3,220.5L483.8,222.0L491.6,217.3L486.9,202.4Z"/></defs><use href="#k18" fill="#b9b9b9" stroke="#b9b9b9" stroke-width="0.4"/>
<defs><path id="k19" d="M432.5,288.9L437.1,299.8L446.5,313.8L458.9,334.1L474.5,338.7L474.5,345.0L500.9,345.0L485.4,282.7ZM485.4,282.7L500.9,345.0L536.7,345.0L536.7,339.4L539.9,329.4L544.5,316.9L546.1,298.3L557.0,292.0L558.5,285.8L544.5,279.6L496.3,265.6Z"/></defs><use href="#k19" fill="#4f8ba0" stroke="#4f8ba0" stroke-width="0.4"/>
<defs><path id="k20" d="M505.6,231.4L491.6,260.9L496.3,265.6L544.5,279.6L543.0,270.3L552.3,267.1L549.2,250.0L567.9,239.1L561.6,229.8L552.3,229.8L530.5,225.1L508.7,226.7Z"/></defs><use href="#k20" fill="#fae38e" stroke="#fae38e" stroke-width="0.4"/>
<defs><path id="k21" d="M488.5,204.9L491.6,217.3L511.8,211.1L508.7,194.0ZM483.8,222.0L488.5,229.8L505.6,231.4L508.7,226.7L518.1,225.1L511.8,211.1L491.6,217.3Z"/></defs><use href="#k21" fill="#e5a164" stroke="#e5a164" stroke-width="0.4"/>
<g opacity="0.2" class="bd" stroke-dasharray="1.6,0.9"><use href="#k18"/></g>
<g opacity="0.32" class="bd"><use href="#k17"/><use href="#k19"/><use href="#k20"/><use href="#k21"/></g><path d="M451.5,40.0L496.3,198.7L356.2,243.8L339.1,252.2L346.9,261.5L362.4,267.1L374.9,265.6L396.7,279.6L421.6,287.4L432.5,288.9L437.1,299.8L446.5,313.8L458.9,334.1L474.5,338.7L474.5,345.0L536.7,345.0L536.7,339.4L539.9,329.4L544.5,316.9L546.1,298.3L557.0,292.0L558.5,285.8L567.9,284.3L586.5,279.6L595.9,278.0L608.3,279.6L620.8,284.3L620.0,285.8L629.3,288.9L638.7,295.2L651.1,302.9L660.5,310.7L669.8,320.1L682.2,329.4L694.7,338.7L694.7,345.0L839.4,345.0L839.4,339.4L837.9,329.4L834.8,310.7L834.8,292.0L837.9,276.5L844.1,260.9L853.4,246.9L862.8,229.8L869.0,211.1L870.5,214.1L875.2,206.3L879.8,196.9L882.9,187.6L890.7,179.8L901.6,173.6L893.8,167.4L892.3,156.5L887.6,150.3L881.4,140.9L875.2,123.8L862.7,114.5L850.3,103.6L831.6,83.3L817.5,77.0L815.0,70.5L807.5,60.5L800.0,51.8L795.0,44.9L782.5,47.4L772.5,48.0L770.0,46.8L756.2,44.9L750.0,44.2L740.0,48.6L740.0,48.0L733.8,53.0L725.0,55.5L720.0,59.2L710.0,61.1L705.0,59.2L698.8,62.4L693.8,61.1L690.0,66.8L685.0,65.5L680.0,71.1L677.5,67.4L670.0,66.8L667.5,71.8L661.2,71.8L655.0,69.2L652.5,66.8L643.8,68.0L642.5,71.8L633.8,71.1L626.2,73.0L622.5,73.0L615.0,74.2L610.0,71.8L603.8,68.6L602.5,71.8L590.0,73.0L582.5,74.2L576.9,63.0L566.2,39.2L554.4,13.6Z" fill="none" stroke="#9a9a94" stroke-width="0.7" stroke-opacity="0.7"/>
<text x="480.6" y="73.6" font-size="14.6" textLength="53.2" lengthAdjust="spacingAndGlyphs" class="lh">Amarillo</text><text x="480.6" y="73.6" font-size="14.6" textLength="53.2" lengthAdjust="spacingAndGlyphs" class="lf">Amarillo</text>
<text x="703.6" y="101.6" font-size="14.6" textLength="38.0" lengthAdjust="spacingAndGlyphs" class="lh">Dallas</text><text x="703.6" y="101.6" font-size="14.6" textLength="38.0" lengthAdjust="spacingAndGlyphs" class="lf">Dallas</text>
<text x="794.4" y="78.4" font-size="14.6" textLength="67.6" lengthAdjust="spacingAndGlyphs" class="lh">Shreveport</text><text x="794.4" y="78.4" font-size="14.6" textLength="67.6" lengthAdjust="spacingAndGlyphs" class="lf">Shreveport</text>
<text x="976.4" y="123.2" font-size="14.6" textLength="79.2" lengthAdjust="spacingAndGlyphs" class="lh">New Orleans</text><text x="976.4" y="123.2" font-size="14.6" textLength="79.2" lengthAdjust="spacingAndGlyphs" class="lf">New Orleans</text>
<text x="815.6" y="194.4" font-size="14.6" textLength="52.5" lengthAdjust="spacingAndGlyphs" class="lh">Houston</text><text x="815.6" y="194.4" font-size="14.6" textLength="52.5" lengthAdjust="spacingAndGlyphs" class="lf">Houston</text>
<text x="720.0" y="205.0" font-size="14.6" textLength="41.3" lengthAdjust="spacingAndGlyphs" class="lh">Austin</text><text x="720.0" y="205.0" font-size="14.6" textLength="41.3" lengthAdjust="spacingAndGlyphs" class="lf">Austin</text>
<text x="690.0" y="252.0" font-size="14.6" textLength="81.0" lengthAdjust="spacingAndGlyphs" class="lh">San Antonio</text><text x="690.0" y="252.0" font-size="14.6" textLength="81.0" lengthAdjust="spacingAndGlyphs" class="lf">San Antonio</text>
<text x="766.9" y="310.8" font-size="14.6" textLength="99.4" lengthAdjust="spacingAndGlyphs" class="lh">Corpus Christi</text><text x="766.9" y="310.8" font-size="14.6" textLength="99.4" lengthAdjust="spacingAndGlyphs" class="lf">Corpus Christi</text>
<text x="325.0" y="264.7" font-size="14.6" textLength="48.3" lengthAdjust="spacingAndGlyphs" class="lh">El Paso</text><text x="325.0" y="264.7" font-size="14.6" textLength="48.3" lengthAdjust="spacingAndGlyphs" class="lf">El Paso</text>
<text x="323.8" y="100.0" font-size="14.6" textLength="53.8" lengthAdjust="spacingAndGlyphs" class="lh">Santa Fe</text><text x="323.8" y="100.0" font-size="14.6" textLength="53.8" lengthAdjust="spacingAndGlyphs" class="lf">Santa Fe</text>
</g>
<g clip-path="url(#cl1)">
<rect x="142" y="341" width="479" height="160" fill="#e9eef2"/>
<path d="M125.0,373.0L142.0,369.2L215.3,352.5L270.0,340.0M215.3,352.5L216.8,363.0M246.6,345.6L246.0,340.0M552.5,381.9L570.0,376.2L625.0,360.0M536.0,372.5L520.0,345.0L515.0,338.0" fill="none" stroke="#a9afb5" stroke-width="0.8" stroke-dasharray="2.2,1.6"/>
<defs><path id="k22" d="M231.4,372.8L231.4,372.8L231.4,372.8L231.4,372.8L231.4,372.8L231.4,372.8L231.4,372.8L231.4,372.8L231.4,372.8L231.4,372.8L231.4,372.8L248.1,368.8L248.1,368.8L248.1,368.8L248.1,368.8L248.1,368.8L248.1,368.8L248.1,368.8L248.1,368.8L248.1,368.8L248.1,368.8L248.1,368.8L248.1,368.8L248.1,368.8L248.1,368.8L248.1,368.8L248.1,368.8L248.1,368.8L246.3,357.7L246.3,357.7L246.3,357.7L246.3,357.7L246.3,357.7L246.3,357.7L246.3,357.7L246.3,357.7L246.3,357.7L246.3,357.7L246.3,357.7L246.3,357.7L246.3,357.7L246.3,357.7L246.3,357.7L246.3,357.7L246.3,357.7L229.1,361.0L217.1,363.1L217.1,363.1L217.1,363.1L217.1,363.1L217.1,363.1L217.1,363.1L217.1,363.1L217.1,363.1L217.1,363.1L217.1,363.1L217.1,363.1L217.1,363.1L217.1,363.1L217.1,363.1L217.1,363.1L217.1,363.1L217.1,363.1L219.1,374.8L219.1,374.8L219.1,374.8L219.1,374.8L219.1,374.8L219.1,374.8L219.1,374.8L219.1,374.8L219.1,374.8L219.1,374.8L219.1,374.8L219.1,374.8L219.1,374.8L219.1,374.8L219.1,374.8L219.1,374.8L219.1,374.8L230.9,372.4ZM263.3,354.2L246.3,357.7L248.1,368.8L249.1,369.5L265.3,364.9ZM282.4,360.8L280.4,350.5L263.3,354.2L265.3,364.9L266.7,366.0ZM299.4,356.5L301.7,358.0L317.0,351.7L312.9,342.8L297.3,346.6ZM248.1,368.8L248.1,368.8L248.1,368.8L248.1,368.8L248.1,368.8L248.1,368.8L248.1,368.8L248.1,368.8L248.1,368.8L248.1,368.8L231.4,372.8L230.9,372.4L230.9,372.4L230.9,372.4L230.9,372.4L230.9,372.4L230.9,372.4L230.9,372.4L230.9,372.4L230.9,372.4L230.9,372.4L230.9,372.4L219.1,374.7L219.1,374.7L219.1,374.7L219.1,374.7L219.1,374.7L219.1,374.7L219.1,374.8L219.1,374.8L219.1,374.8L219.1,374.8L219.1,374.8L219.1,374.8L219.1,374.8L219.1,374.8L219.1,374.8L219.1,374.8L219.1,374.8L221.1,386.7L221.1,386.7L221.1,386.7L221.1,386.7L221.1,386.7L221.1,386.7L221.1,386.7L221.1,386.7L221.1,386.7L221.1,386.7L221.1,386.7L221.1,386.7L221.1,386.7L221.1,386.7L221.1,386.7L221.1,386.7L221.1,386.7L233.2,384.3L233.8,384.8L233.8,384.8L233.8,384.8L233.8,384.8L233.8,384.8L233.8,384.8L233.8,384.8L233.8,384.8L233.8,384.8L233.8,384.8L233.8,384.8L250.9,380.5L250.9,380.5L250.9,380.5L250.9,380.5L250.9,380.5L250.9,380.5L250.9,380.5L250.9,380.5L250.9,380.5L250.9,380.5L250.9,380.5L250.9,380.5L250.9,380.5L250.9,380.5L250.9,380.5L250.9,380.5L249.1,369.5L249.1,369.5L249.1,369.5L249.1,369.5L249.1,369.5L249.1,369.5L249.1,369.5L249.1,369.5L248.1,368.8ZM301.7,358.0L299.4,356.5L284.2,362.1L286.2,372.0L288.1,373.4L303.7,367.4ZM301.7,358.0L303.7,367.4L306.1,369.0L321.9,362.4L317.0,351.7ZM236.2,397.3L236.2,397.3L236.2,397.3L236.2,397.3L236.2,397.3L236.2,397.3L236.2,397.3L236.2,397.3L236.2,397.3L236.2,397.3L253.9,392.9L253.9,392.9L253.9,392.9L253.9,392.9L253.9,392.9L253.9,392.9L253.9,392.9L253.9,392.9L253.9,392.9L253.9,392.9L253.9,392.9L253.9,392.9L253.9,392.9L253.9,392.9L253.9,392.9L253.9,392.9L253.9,392.9L252.0,381.4L252.0,381.4L252.0,381.4L252.0,381.4L252.0,381.4L252.0,381.4L252.0,381.4L252.0,381.4L250.9,380.5L250.9,380.5L250.9,380.5L250.9,380.5L250.9,380.5L250.9,380.5L250.9,380.5L250.9,380.5L250.9,380.5L250.9,380.5L250.9,380.5L233.8,384.8L233.2,384.3L233.2,384.3L233.2,384.3L233.2,384.3L233.2,384.3L233.2,384.3L233.2,384.3L233.2,384.3L233.2,384.3L233.2,384.3L233.2,384.3L221.1,386.7L221.1,386.7L221.1,386.7L221.1,386.7L221.1,386.7L221.1,386.7L221.1,386.7L221.1,386.7L221.1,386.7L221.1,386.7L221.1,386.7L221.1,386.7L221.1,386.7L221.1,386.7L221.1,386.7L221.1,386.7L221.1,386.7L223.3,399.3L223.3,399.3L223.3,399.3L223.3,399.3L223.3,399.3L223.3,399.3L223.3,399.3L223.3,399.3L223.3,399.3L223.3,399.3L223.3,399.3L223.3,399.3L223.3,399.3L223.3,399.3L223.3,399.3L223.3,399.3L223.3,399.3L235.7,396.8L236.2,397.3ZM288.1,373.4L286.2,372.0L270.1,377.6L272.0,388.6L273.6,389.7L290.2,383.9ZM306.1,369.0L308.2,379.0L310.8,380.6L326.9,373.7L322.4,363.5L321.9,362.4ZM282.3,402.8L294.1,394.8L292.2,385.3L290.2,383.9L273.6,389.7L275.3,399.4ZM292.2,385.3L294.1,394.8L300.9,398.0L312.8,390.1L310.8,380.6L308.2,379.0ZM312.8,390.1L319.1,393.0L332.0,385.2L331.2,383.5L326.9,373.7L310.8,380.6ZM244.7,423.6L246.0,421.7L244.4,411.4L237.8,407.5L225.8,414.4L227.4,425.0ZM256.5,403.7L244.4,411.4L246.0,421.7L264.2,419.4L265.2,417.8L263.5,407.4ZM263.5,407.4L265.2,417.8L283.6,414.6L284.2,413.5L282.3,402.8L275.3,399.4ZM284.2,413.5L302.6,409.6L302.9,409.0L300.9,398.0L294.1,394.8L282.3,402.8ZM321.3,404.6L319.1,393.0L312.8,390.1L300.9,398.0L302.9,409.0L321.3,404.6ZM319.1,393.0L321.3,404.6L337.7,400.4L338.1,393.0L336.0,393.4L332.0,385.2ZM247.0,436.8L244.7,423.6L227.4,425.0L229.8,440.2ZM284.2,413.5L283.6,414.6L286.1,427.5L287.3,428.3L305.3,422.4L302.6,409.6ZM321.3,404.6L302.9,409.0L302.6,409.6L305.3,422.4L306.9,423.5L324.1,417.4ZM341.4,412.9L340.1,403.1L337.7,400.4L321.3,404.6L321.3,404.6L324.1,417.4L326.1,418.8ZM341.4,412.9L345.3,415.8L360.4,407.6L356.0,399.1L340.1,403.1ZM250.3,451.4L247.3,437.0L247.0,436.8L229.8,440.2L232.2,455.0ZM310.0,436.8L306.9,423.5L305.3,422.4L287.3,428.3L290.4,441.9L291.4,442.5ZM329.2,431.6L326.1,418.8L324.1,417.4L306.9,423.5L310.0,436.8L311.4,437.7ZM329.2,431.6L331.1,432.9L348.0,426.5L345.3,415.8L341.4,412.9L326.1,418.8ZM363.1,408.9L360.4,407.6L345.3,415.8L348.0,426.5L350.3,428.0L366.4,421.4ZM291.4,442.5L290.4,441.9L271.0,447.1L274.2,460.1L292.2,459.7L294.9,456.1ZM315.1,451.7L311.4,437.7L310.0,436.8L291.4,442.5L294.9,456.1L312.5,455.3ZM334.9,447.0L331.1,432.9L329.2,431.6L311.4,437.7L315.1,451.7L332.5,450.5ZM352.0,445.3L354.2,441.8L350.3,428.0L348.0,426.5L331.1,432.9L334.9,447.0ZM366.4,421.4L350.3,428.0L354.2,441.8L371.1,439.8L373.1,436.5L369.2,423.2ZM384.4,416.4L381.3,405.5L376.2,402.0L363.1,408.9L366.4,421.4L369.2,423.2ZM403.4,410.7L403.7,409.3L394.9,399.0L381.3,405.5L384.4,416.4L387.6,418.5ZM384.4,416.4L369.2,423.2L373.1,436.5L389.8,434.3L391.4,431.1L387.6,418.5ZM371.1,439.8L376.0,454.0L377.9,455.1L394.9,447.8L389.8,434.3L373.1,436.5ZM250.5,467.7L253.3,463.8L250.4,451.4L250.3,451.4L232.2,455.0L234.3,467.3ZM294.9,456.1L292.2,459.7L295.2,473.7L295.9,474.2L316.1,469.8L312.5,455.3ZM337.9,466.2L356.5,460.1L352.0,445.3L334.9,447.0L332.5,450.5L336.6,465.3ZM277.1,492.3L297.5,491.2L299.2,488.8L295.9,474.2L295.2,473.7L274.3,477.4ZM297.5,491.2L277.1,492.3L276.0,493.9L279.9,513.1L280.5,513.5L301.6,509.5ZM318.9,487.9L299.2,488.8L297.5,491.2L301.6,509.5L304.1,510.9L323.3,505.8ZM327.5,507.9L333.0,506.0L343.5,496.6L340.2,484.1L320.9,485.1L318.9,487.9L323.3,505.8ZM343.5,496.6L354.7,500.5L365.2,493.5L361.2,479.4L342.3,481.0L340.2,484.1ZM421.0,488.4L443.0,488.5L445.6,478.7L436.9,469.1L425.6,472.1ZM420.6,488.7L425.7,506.7L436.8,509.9L448.0,499.1L443.0,488.5L421.0,488.4ZM386.8,490.5L376.9,498.3L378.9,515.7L382.0,518.0L402.3,508.1L400.5,493.5ZM351.0,532.1L355.4,540.7L362.6,540.3L386.1,529.3L382.0,518.0L378.9,515.7L358.0,518.7L357.5,519.2ZM396.0,550.7L393.4,536.7L386.1,529.3L362.6,540.3L390.4,553.9ZM254.8,495.7L252.3,499.1L258.5,515.9L279.9,513.1L276.0,493.9ZM236.4,518.7L256.6,519.0L258.5,515.9L252.3,499.1L239.9,499.9L240.6,503.8L232.3,505.6ZM236.4,518.7L168.9,624.2L170.1,626.9L180.5,653.3L197.5,660.8L196.5,668.9L230.0,671.7L260.7,614.9L256.6,519.0ZM236.4,518.7L232.3,505.6L88.4,541.3L68.5,549.2L74.2,559.7L89.1,566.8L102.6,565.9L122.5,582.8L147.7,593.4L159.3,596.0L162.3,609.2L168.9,624.2ZM280.5,513.5L279.9,513.1L258.5,515.9L256.6,519.0L260.7,614.9L291.6,575.3ZM304.1,510.9L301.6,509.5L280.5,513.5L291.6,575.3L295.6,572.2L310.5,543.0ZM304.1,510.9L310.5,543.0L332.1,528.5L327.5,507.9L323.3,505.8ZM358.0,518.7L358.0,518.7L358.0,518.7L358.0,518.7L358.0,518.7L358.0,518.7L358.0,518.7L358.0,518.7L358.0,518.7L358.0,518.7L354.7,500.5L354.7,500.5L354.7,500.5L354.7,500.5L354.7,500.5L354.7,500.5L354.7,500.5L354.7,500.5L354.7,500.5L354.7,500.5L354.7,500.5L354.7,500.5L343.5,496.6L343.5,496.6L343.5,496.6L343.5,496.6L343.5,496.6L343.5,496.6L343.5,496.6L343.5,496.6L343.5,496.6L343.5,496.6L343.5,496.6L343.5,496.6L333.0,506.0L327.5,507.9L327.5,507.9L327.5,507.9L327.5,507.9L327.5,507.9L327.5,507.9L327.5,507.9L327.5,507.9L327.5,507.9L327.5,507.9L327.5,507.9L327.5,507.9L327.5,507.9L327.5,507.9L327.5,507.9L332.1,528.5L332.1,528.5L332.1,528.5L332.1,528.5L332.1,528.5L332.1,528.5L332.1,528.5L332.1,528.5L332.1,528.5L332.1,528.5L332.1,528.5L332.1,528.5L332.1,528.5L351.0,532.1L351.0,532.1L351.0,532.1L351.0,532.1L351.0,532.1L351.0,532.1L351.0,532.1L351.0,532.1L351.0,532.1L351.0,532.1L351.0,532.1L351.0,532.1L351.0,532.1L351.0,532.1L357.5,519.2ZM295.6,572.2L343.4,564.0L354.0,550.1L355.4,540.7L351.0,532.1L332.1,528.5L310.5,543.0ZM362.6,540.3L355.4,540.7L354.0,550.1L380.8,564.0L390.4,553.9ZM380.8,564.0L354.0,550.1L343.4,564.0L375.1,592.9ZM375.9,595.3L375.1,592.9L343.4,564.0L295.6,572.2L291.6,575.3L260.7,614.9L230.0,671.7L269.3,675.2L269.8,667.9L274.5,655.4L281.1,640.2L284.6,617.5L297.5,611.2L299.7,604.0L310.4,603.2L331.8,599.7L342.4,598.8L356.4,601.7L370.3,608.3L369.4,610.1L372.3,611.3ZM337.7,400.4L340.1,403.1L356.0,399.1L357.2,389.0L356.2,388.5L354.9,391.3L343.1,392.3L338.1,393.0Z"/></defs><use href="#k22" fill="#b9b9b9" stroke="#b9b9b9" stroke-width="0.4"/>
<defs><path id="k23" d="M299.4,356.5L297.3,346.6L280.4,350.5L282.4,360.8L284.2,362.1ZM286.2,372.0L284.2,362.1L282.4,360.8L266.7,366.0L268.6,376.4L270.1,377.6ZM270.1,377.6L268.6,376.4L252.0,381.4L253.8,392.9L254.9,393.7L272.0,388.6ZM306.1,369.0L303.7,367.4L288.1,373.4L290.2,383.9L292.2,385.3L308.2,379.0ZM247.3,437.0L266.7,432.4L264.2,419.4L246.0,421.7L244.7,423.6L247.0,436.8ZM250.3,451.4L250.4,451.4L270.5,446.8L267.4,432.9L266.7,432.4L247.3,437.0ZM356.0,399.1L360.4,407.6L363.1,408.9L376.2,402.0L375.2,392.4L373.7,392.4L366.7,393.6L362.0,391.3L357.2,389.0ZM394.9,399.0L395.1,387.2L393.5,387.4L392.4,390.9L384.2,390.5L377.3,392.4L375.2,392.4L376.2,402.0L381.3,405.5ZM431.0,398.0L428.9,388.3L427.0,390.4L424.5,386.9L417.6,386.2L415.5,390.9L411.8,390.9L413.7,403.1L421.4,406.1ZM466.0,391.2L463.8,381.4L455.2,382.5L450.2,380.6L444.8,382.8L448.9,395.1L457.5,399.1ZM475.6,376.8L469.4,378.2L464.8,381.3L463.8,381.4L466.0,391.2L475.6,396.7L486.6,389.5ZM486.6,389.5L488.1,389.8L497.4,383.8L492.4,369.3L483.3,372.7L483.3,372.1L477.7,376.3L475.6,376.8ZM403.4,410.7L387.6,418.5L391.4,431.1L407.9,428.7L409.7,424.5ZM421.4,406.1L413.7,403.1L403.7,409.3L403.4,410.7L409.7,424.5L424.7,421.7L426.2,418.5ZM488.1,389.8L486.6,389.5L475.6,396.7L478.0,408.3L483.4,412.6L490.5,410.1L493.4,398.5ZM515.3,413.4L507.7,408.7L494.9,411.7L503.8,423.0L515.7,415.0ZM409.7,424.5L407.9,428.7L413.2,441.5L419.7,444.8L430.2,437.3L430.4,436.2L424.7,421.7ZM489.1,428.8L487.8,441.5L489.7,445.0L505.7,443.9L510.3,435.3L503.1,427.4ZM391.4,431.1L389.8,434.3L394.9,447.8L397.1,449.1L413.2,441.5L407.9,428.7ZM274.2,460.1L271.0,447.1L270.5,446.8L250.4,451.4L253.3,463.8L271.5,463.8ZM295.2,473.7L292.2,459.7L274.2,460.1L271.5,463.8L273.9,477.1L274.3,477.4ZM320.9,485.1L317.1,470.5L316.1,469.8L295.9,474.2L299.2,488.8L318.9,487.9ZM340.2,484.1L342.3,481.0L337.9,466.2L336.6,465.3L317.1,470.5L320.9,485.1ZM342.3,481.0L361.2,479.4L363.2,476.3L358.2,461.1L356.5,460.1L337.9,466.2ZM361.2,479.4L365.2,493.5L376.9,498.3L386.8,490.5L381.8,473.8L363.2,476.3ZM401.9,467.7L403.5,465.3L397.1,449.1L394.9,447.8L377.9,455.1L383.6,470.8ZM421.0,451.3L419.7,444.8L413.2,441.5L397.1,449.1L403.5,465.3L415.2,462.9ZM470.2,459.6L470.3,459.1L464.0,445.3L452.5,442.3L444.5,449.5L444.1,454.7L459.6,464.1ZM489.7,445.0L489.1,447.9L496.1,461.2L513.3,461.0L516.1,458.7L505.7,443.9ZM511.0,477.8L498.5,479.2L498.2,491.9L509.2,502.9L521.0,494.7L523.3,486.5ZM401.9,467.7L383.6,470.8L381.8,473.8L386.8,490.5L400.5,493.5L408.0,487.4ZM403.5,465.3L401.9,467.7L408.0,487.4L420.6,488.7L421.0,488.4L425.6,472.1L415.2,462.9ZM515.6,376.3L515.0,373.3L514.6,373.3L512.1,372.1L498.7,370.0L492.6,369.2L492.4,369.3L497.4,383.8L503.0,385.5ZM531.1,383.7L533.7,392.0L539.2,395.9L544.0,394.6L548.5,383.9L541.7,377.5L539.6,375.2ZM537.3,408.2L539.2,395.9L533.7,392.0L519.6,394.3L518.4,395.9L522.1,404.8L537.1,408.4ZM544.0,394.6L558.5,402.1L562.4,400.7L562.2,400.6L558.8,394.6L550.1,385.4L548.5,383.9ZM579.1,408.6L577.2,406.9L562.4,400.7L558.5,402.1L555.1,411.7L557.5,416.6L568.3,422.0L569.2,421.9ZM568.3,422.0L557.5,416.6L549.0,425.5L549.9,437.3L560.9,441.3ZM527.9,424.5L524.4,424.5L519.0,434.6L528.5,446.0L539.4,446.3L546.2,438.3ZM560.9,441.3L549.9,437.3L546.2,438.3L539.4,446.3L544.6,459.0L556.0,464.6L560.1,462.8L562.0,442.3ZM560.1,462.8L573.8,467.6L579.0,464.3L580.7,455.5L568.3,443.9L562.0,442.3ZM594.8,473.9L602.6,469.4L592.6,452.8L580.7,455.5L579.0,464.3ZM611.8,450.0L610.0,446.8L603.5,445.4L595.0,448.0L592.6,452.8L602.6,469.4L606.9,470.4L613.4,466.2ZM525.8,485.4L530.7,468.2L519.6,458.8L516.1,458.7L513.3,461.0L511.0,477.8L523.3,486.5ZM596.2,492.4L615.3,496.8L619.3,492.2L606.9,470.4L602.6,469.4L594.8,473.9L592.3,486.1ZM400.5,493.5L402.3,508.1L413.4,516.3L425.7,506.7L420.6,488.7L408.0,487.4Z"/></defs><use href="#k23" fill="#fae38e" stroke="#fae38e" stroke-width="0.4"/>
<defs><path id="k24" d="M265.3,364.9L249.1,369.5L250.9,380.5L252.0,381.4L268.6,376.4L266.7,366.0ZM254.9,393.7L254.9,393.7L254.9,393.7L254.9,393.7L254.9,393.7L254.9,393.7L254.9,393.7L253.9,392.9L253.9,392.9L253.9,392.9L253.9,392.9L253.9,392.9L253.9,392.9L253.9,392.9L253.8,392.9L253.8,392.9L253.8,392.9L253.8,392.9L236.2,397.3L235.7,396.8L235.7,396.8L235.7,396.8L235.7,396.8L235.7,396.8L235.7,396.8L235.7,396.8L235.7,396.8L235.7,396.8L235.7,396.8L223.3,399.3L223.3,399.3L223.3,399.3L223.3,399.3L223.3,399.3L223.3,399.3L223.3,399.3L223.3,399.3L223.3,399.3L223.3,399.3L223.3,399.3L223.3,399.3L223.3,399.3L223.3,399.3L223.3,399.3L223.3,399.3L223.3,399.3L225.7,414.4L225.7,414.4L225.7,414.4L225.7,414.4L225.7,414.4L225.7,414.4L225.7,414.4L225.7,414.4L225.7,414.4L225.7,414.4L225.7,414.4L225.7,414.4L225.7,414.4L225.7,414.4L225.7,414.4L225.8,414.4L225.8,414.4L225.8,414.4L225.8,414.4L225.8,414.4L225.8,414.4L237.8,407.5L244.4,411.4L244.4,411.4L244.4,411.4L244.4,411.4L244.4,411.4L244.4,411.4L244.4,411.4L244.4,411.4L244.4,411.4L244.4,411.4L244.4,411.4L244.4,411.4L244.4,411.4L256.5,403.7L256.5,403.7L256.5,403.7L256.5,403.7L256.5,403.7L256.5,403.7L256.5,403.7L256.5,403.7L256.5,403.7L256.5,403.7L256.5,403.7L256.5,403.7L256.5,403.7L254.9,393.7ZM273.6,389.7L272.0,388.6L254.9,393.7L256.5,403.7L263.5,407.4L275.3,399.4ZM283.6,414.6L265.2,417.8L264.2,419.4L266.7,432.4L267.4,432.9L286.1,427.5ZM271.0,447.1L290.4,441.9L287.3,428.3L286.1,427.5L267.4,432.9L270.5,446.8ZM411.8,390.9L409.8,390.9L403.9,388.5L401.5,386.2L395.1,387.2L394.9,399.0L403.7,409.3L413.7,403.1ZM444.8,382.8L444.3,383.1L439.4,381.7L436.2,386.7L431.4,385.4L428.9,388.3L431.0,398.0L439.3,402.6L448.9,395.1ZM442.4,416.3L443.5,414.4L439.3,402.6L431.0,398.0L421.4,406.1L426.2,418.5ZM504.6,399.4L508.8,394.3L503.0,385.5L497.4,383.8L488.1,389.8L493.4,398.5ZM490.5,410.1L494.9,411.7L507.7,408.7L504.6,399.4L493.4,398.5ZM424.7,421.7L430.4,436.2L445.8,428.4L442.4,416.3L426.2,418.5ZM449.7,431.4L464.7,425.4L458.8,412.7L443.5,414.4L442.4,416.3L445.8,428.4ZM464.7,425.4L467.4,427.1L482.9,420.3L483.4,412.6L478.0,408.3L460.8,409.2L458.8,412.7ZM482.9,420.3L467.4,427.1L470.1,436.4L487.8,441.5L489.1,428.8ZM490.5,410.1L483.4,412.6L482.9,420.3L489.1,428.8L503.1,427.4L503.8,423.0L494.9,411.7ZM430.2,437.3L444.5,449.5L452.5,442.3L449.7,431.4L445.8,428.4L430.4,436.2ZM464.0,445.3L470.1,436.4L467.4,427.1L464.7,425.4L449.7,431.4L452.5,442.3ZM271.5,463.8L271.5,463.8L271.5,463.8L271.5,463.8L271.5,463.8L271.5,463.8L271.5,463.8L271.5,463.8L271.5,463.8L271.5,463.8L271.5,463.8L271.5,463.8L271.5,463.8L271.5,463.8L253.3,463.8L253.2,463.8L253.2,463.8L253.2,463.8L253.2,463.8L253.2,463.8L253.2,463.8L253.2,463.8L253.2,463.8L253.2,463.8L253.2,463.8L253.2,463.8L250.5,467.7L234.3,467.3L234.3,467.3L234.3,467.3L234.3,467.3L234.3,467.3L234.3,467.3L234.3,467.3L234.3,467.3L234.3,467.3L234.3,467.3L234.3,467.3L234.3,467.3L234.3,467.3L234.3,467.3L234.3,467.3L234.3,467.3L234.3,467.3L234.3,467.3L234.3,467.3L236.8,482.1L236.8,482.1L236.8,482.1L236.8,482.1L236.8,482.1L236.8,482.1L236.8,482.1L236.8,482.1L236.8,482.1L236.8,482.1L236.8,482.1L236.8,482.1L236.8,482.1L236.8,482.1L236.8,482.1L236.8,482.1L236.8,482.1L252.3,480.1L252.4,480.2L252.4,480.2L252.4,480.2L252.4,480.2L252.4,480.2L252.4,480.2L252.4,480.2L252.4,480.2L252.4,480.2L252.4,480.2L273.9,477.1L273.9,477.1L273.9,477.1L273.9,477.1L273.9,477.1L273.9,477.1L273.9,477.1L273.9,477.1L273.9,477.1L273.9,477.1L273.9,477.1L273.9,477.1L273.9,477.1L273.9,477.1L273.9,477.1L273.9,477.1L273.9,477.1L271.5,463.8ZM332.5,450.5L315.1,451.7L312.5,455.3L316.1,469.8L317.1,470.5L336.6,465.3ZM358.2,461.1L376.0,454.0L371.1,439.8L354.2,441.8L352.0,445.3L356.5,460.1ZM273.9,477.1L273.9,477.1L273.9,477.1L273.9,477.1L273.9,477.1L273.9,477.1L273.9,477.1L273.9,477.1L273.9,477.1L252.4,480.2L252.3,480.1L252.3,480.1L252.3,480.1L252.3,480.1L252.3,480.1L252.3,480.1L252.3,480.1L252.3,480.1L252.3,480.1L252.3,480.1L236.8,482.1L236.8,482.1L236.8,482.1L236.8,482.1L236.8,482.1L236.8,482.1L236.8,482.1L236.8,482.1L236.8,482.1L236.8,482.1L236.8,482.1L236.8,482.1L236.8,482.1L236.8,482.1L236.8,482.1L236.8,482.1L236.8,482.1L239.9,499.9L239.9,499.9L239.9,499.9L239.9,499.9L239.9,499.9L239.9,499.9L239.9,499.9L239.9,499.9L239.9,499.9L239.9,499.9L239.9,499.9L239.9,499.9L239.9,499.9L239.9,499.9L239.9,499.9L239.9,499.9L252.3,499.1L252.3,499.1L252.3,499.1L252.3,499.1L252.3,499.1L252.3,499.1L252.3,499.1L252.3,499.1L252.3,499.1L252.3,499.1L254.8,495.7L276.0,493.9L276.0,493.9L276.0,493.9L276.0,493.9L276.0,493.9L276.0,493.9L276.0,493.9L276.0,493.9L276.0,493.9L276.0,493.9L277.1,492.3L277.1,492.3L277.1,492.3L277.1,492.3L277.1,492.3L277.1,492.3L277.1,492.3L277.1,492.3L277.1,492.3L274.3,477.4L274.3,477.4L274.3,477.4L274.3,477.4L274.3,477.4L274.3,477.4L274.3,477.4L274.3,477.4L273.9,477.1ZM363.2,476.3L381.8,473.8L383.6,470.8L377.9,455.1L376.0,454.0L358.2,461.1ZM378.9,515.7L376.9,498.3L365.2,493.5L354.7,500.5L358.0,518.7ZM438.6,459.6L444.1,454.7L444.5,449.5L430.2,437.3L419.7,444.8L421.0,451.3ZM487.8,441.5L470.1,436.4L464.0,445.3L470.3,459.1L489.1,447.9L489.7,445.0ZM491.8,472.5L496.1,461.2L489.1,447.9L470.3,459.1L470.2,459.6L480.0,472.6ZM496.1,461.2L491.8,472.5L498.5,479.2L511.0,477.8L513.3,461.0ZM425.6,472.1L436.9,469.1L438.6,459.6L421.0,451.3L415.2,462.9ZM436.9,469.1L445.6,478.7L455.6,475.9L459.6,464.1L444.1,454.7L438.6,459.6ZM471.4,489.6L472.5,489.7L480.0,472.6L470.2,459.6L459.6,464.1L455.6,475.9ZM491.8,472.5L480.0,472.6L472.5,489.7L478.7,496.8L498.2,491.9L498.5,479.2ZM445.6,478.7L443.0,488.5L448.0,499.1L452.8,500.4L471.4,489.6L455.6,475.9ZM531.1,383.7L539.6,375.2L536.0,371.3L524.2,373.1L515.0,373.3L515.6,376.3L517.7,378.7ZM531.1,383.7L517.7,378.7L519.6,394.3L533.7,392.0ZM508.8,394.3L518.4,395.9L519.6,394.3L517.7,378.7L515.6,376.3L503.0,385.5ZM555.1,411.7L558.5,402.1L544.0,394.6L539.2,395.9L537.3,408.2ZM507.7,408.7L515.3,413.4L522.1,404.8L518.4,395.9L508.8,394.3L504.6,399.4ZM524.4,424.5L527.9,424.5L537.0,415.1L537.1,408.4L522.1,404.8L515.3,413.4L515.7,415.0ZM537.0,415.1L549.0,425.5L557.5,416.6L555.1,411.7L537.3,408.2L537.1,408.4ZM594.7,423.3L595.0,422.6L579.1,408.6L569.2,421.9L582.6,432.2ZM503.8,423.0L503.1,427.4L510.3,435.3L519.0,434.6L524.4,424.5L515.7,415.0ZM549.0,425.5L537.0,415.1L527.9,424.5L546.2,438.3L549.9,437.3ZM582.7,435.6L595.0,448.0L603.5,445.4L594.7,423.3L582.6,432.2ZM594.7,423.3L603.5,445.4L610.0,446.8L617.9,439.7L614.0,437.1L599.3,426.3L595.0,422.6ZM638.2,463.2L628.6,446.6L617.9,439.7L610.0,446.8L611.8,450.0L637.7,463.5ZM631.6,472.7L641.6,485.7L657.2,490.2L653.5,479.9L647.2,473.4L638.6,463.8L638.2,463.2L637.7,463.5L631.4,470.6ZM568.3,443.9L582.7,435.6L582.6,432.2L569.2,421.9L568.3,422.0L560.9,441.3L562.0,442.3ZM580.7,455.5L592.6,452.8L595.0,448.0L582.7,435.6L568.3,443.9ZM505.7,443.9L516.1,458.7L519.6,458.8L528.5,446.0L519.0,434.6L510.3,435.3ZM637.7,463.5L611.8,450.0L613.4,466.2L631.4,470.6ZM613.4,466.2L606.9,470.4L619.3,492.2L619.5,492.1L631.6,472.7L631.4,470.6ZM544.6,459.0L539.4,446.3L528.5,446.0L519.6,458.8L530.7,468.2L533.3,468.1ZM556.0,464.6L544.6,459.0L533.3,468.1L544.4,476.9L555.5,471.6ZM560.1,462.8L556.0,464.6L555.5,471.6L562.5,483.3L568.2,487.0L575.8,480.8L573.8,467.6ZM575.8,480.8L592.3,486.1L594.8,473.9L579.0,464.3L573.8,467.6ZM544.4,476.9L545.7,487.1L562.5,483.3L555.5,471.6ZM619.5,492.1L632.9,495.7L641.6,485.7L631.6,472.7ZM568.2,487.0L569.1,493.1L585.5,508.6L596.2,492.4L592.3,486.1L575.8,480.8ZM618.9,516.8L619.4,515.0L615.3,496.8L596.2,492.4L585.5,508.6L586.1,512.4L611.6,521.7ZM641.6,485.7L632.9,495.7L651.2,511.1L657.0,504.2L667.5,498.1L657.6,491.2L657.2,490.2ZM619.3,492.2L615.3,496.8L619.4,515.0L650.1,513.5L650.3,512.2L651.2,511.1L632.9,495.7L619.5,492.1ZM600.3,541.9L604.7,544.3L611.7,534.3L611.6,521.7L586.1,512.4L581.7,518.4L581.1,520.9ZM611.7,534.3L638.4,548.6L640.0,537.4L642.3,540.7L642.9,539.4L618.9,516.8L611.6,521.7ZM619.4,515.0L618.9,516.8L642.9,539.4L645.8,532.3L648.9,522.2L650.1,513.5ZM569.1,493.1L568.2,487.0L562.5,483.3L545.7,487.1L543.8,490.8L544.9,493.1L558.0,500.2ZM544.9,493.1L543.8,490.8L525.8,485.4L523.3,486.5L521.0,494.7L537.9,510.1L538.9,510.0ZM531.3,518.1L537.9,510.1L521.0,494.7L509.2,502.9L509.0,512.4ZM551.7,516.4L559.0,507.2L558.0,500.2L544.9,493.1L538.9,510.0ZM581.7,518.4L586.1,512.4L585.5,508.6L569.1,493.1L558.0,500.2L559.0,507.2ZM555.3,523.4L577.8,524.3L581.1,520.9L581.7,518.4L559.0,507.2L551.7,516.4ZM537.9,510.1L531.3,518.1L536.4,537.9L542.0,540.6L552.0,536.2L555.3,523.4L551.7,516.4L538.9,510.0ZM531.3,518.1L509.0,512.4L508.7,512.9L507.0,522.8L528.1,539.2L536.4,537.9ZM552.0,536.2L574.0,547.3L575.4,544.7L577.8,524.3L555.3,523.4ZM575.4,544.7L600.3,541.9L581.1,520.9L577.8,524.3ZM509.0,512.4L509.2,502.9L498.2,491.9L478.7,496.8L480.2,506.1L508.7,512.9ZM480.2,506.1L476.8,517.1L481.9,524.2L503.4,526.3L507.0,522.8L508.7,512.9ZM481.4,537.4L498.6,544.8L503.1,540.1L503.4,526.3L481.9,524.2ZM402.3,508.1L382.0,518.0L386.1,529.3L393.4,536.7L413.8,522.2L413.4,516.3ZM413.4,516.3L413.8,522.2L427.2,535.7L432.9,534.5L440.8,522.3L436.8,509.9L425.7,506.7ZM463.2,518.3L452.8,500.4L448.0,499.1L436.8,509.9L440.8,522.3L457.9,525.0ZM463.2,518.3L457.9,525.0L459.8,535.5L477.3,542.3L481.4,537.4L481.9,524.2L476.8,517.1ZM457.9,525.0L440.8,522.3L432.9,534.5L450.8,549.2L451.1,549.2L459.8,535.5ZM406.5,555.8L418.6,552.2L427.2,535.7L413.8,522.2L393.4,536.7L396.0,550.7ZM451.1,549.2L470.4,564.8L477.6,558.5L477.3,542.3L459.8,535.5ZM477.3,542.3L477.6,558.5L499.0,561.8L498.6,544.8L481.4,537.4ZM499.0,561.8L500.8,563.7L520.0,562.7L520.1,549.0L503.1,540.1L498.6,544.8ZM507.0,522.8L503.4,526.3L503.1,540.1L520.1,549.0L528.1,539.2ZM427.2,535.7L418.6,552.2L437.0,565.6L450.8,549.2L432.9,534.5ZM380.8,564.0L375.1,592.9L375.9,595.3L410.8,584.0L406.5,555.8L396.0,550.7L390.4,553.9ZM437.0,565.6L418.6,552.2L406.5,555.8L410.8,584.0L418.3,588.2L439.2,576.4ZM426.3,615.7L426.5,614.1L418.3,588.2L410.8,584.0L375.9,595.3L372.3,611.3L380.0,614.5L390.6,622.8L398.7,628.7ZM450.8,549.2L437.0,565.6L439.2,576.4L448.6,582.2L470.0,569.3L470.4,564.8L451.1,549.2ZM453.5,597.7L448.6,582.2L439.2,576.4L418.3,588.2L426.5,614.1ZM485.6,592.5L470.0,569.3L448.6,582.2L453.5,597.7L462.6,604.4ZM485.6,592.6L485.6,592.5L462.6,604.4L465.1,619.5L469.9,631.1L475.4,634.3L500.4,621.4L500.6,620.8ZM427.8,617.3L465.1,619.5L462.6,604.4L453.5,597.7L426.5,614.1L426.3,615.7ZM470.4,564.8L470.0,569.3L485.6,592.5L485.6,592.6L500.5,583.2L500.8,563.7L499.0,561.8L477.6,558.5ZM528.1,539.2L520.1,549.0L520.0,562.7L529.9,571.8L534.5,571.9L546.2,556.0L542.0,540.6L536.4,537.9ZM542.0,540.6L546.2,556.0L568.1,567.3L570.2,566.2L575.4,552.6L574.0,547.3L552.0,536.2ZM574.0,547.3L575.4,552.6L601.8,561.5L607.1,553.6L604.7,544.3L600.3,541.9L575.4,544.7ZM635.3,563.1L637.1,558.2L638.4,548.6L611.7,534.3L604.7,544.3L607.1,553.6ZM603.7,576.8L624.1,590.1L630.1,577.6L635.3,563.1L607.1,553.6L601.8,561.5ZM593.6,581.7L603.7,576.8L601.8,561.5L575.4,552.6L570.2,566.2ZM546.2,556.0L534.5,571.9L549.8,585.8L564.0,581.0L568.1,567.3ZM519.3,592.3L520.4,591.8L529.9,571.8L520.0,562.7L500.8,563.7L500.5,583.2ZM540.0,601.6L549.7,592.9L549.8,585.8L534.5,571.9L529.9,571.8L520.4,591.8ZM549.8,585.8L549.7,592.9L568.5,614.7L575.5,606.3L576.8,596.4L564.0,581.0ZM568.1,567.3L564.0,581.0L576.8,596.4L591.3,591.3L593.6,581.7L570.2,566.2ZM603.3,608.6L618.5,611.8L622.3,593.8L624.1,590.1L603.7,576.8L593.6,581.7L591.3,591.3ZM576.8,596.4L575.5,606.3L596.5,614.5L603.3,608.6L591.3,591.3ZM519.3,592.3L500.5,583.2L485.6,592.6L500.6,620.8L516.5,615.5ZM526.1,620.6L541.3,612.7L540.0,601.6L520.4,591.8L519.3,592.3L516.5,615.5ZM568.3,616.7L568.5,614.7L549.7,592.9L540.0,601.6L541.3,612.7L559.3,625.4ZM443.6,642.3L469.9,631.1L465.1,619.5L427.8,617.3ZM469.9,631.1L443.6,642.3L439.2,666.7L442.1,669.2L457.5,682.5L457.9,690.9L462.1,691.2L481.7,655.5L475.4,634.3ZM398.7,628.7L404.9,633.2L415.8,643.6L427.0,656.2L439.2,666.7L443.6,642.3L427.8,617.3L426.3,615.7ZM500.4,621.4L475.4,634.3L481.7,655.5L518.5,666.0L519.6,663.1ZM518.5,666.0L481.7,655.5L462.1,691.2L524.3,695.3ZM500.6,620.8L500.4,621.4L519.6,663.1L540.4,647.6L526.1,620.6L516.5,615.5ZM546.2,647.9L557.6,639.9L559.3,625.4L541.3,612.7L526.1,620.6L540.4,647.6ZM519.6,663.1L518.5,666.0L524.3,695.3L574.9,698.5L546.2,647.9L540.4,647.6ZM557.6,639.9L576.8,651.7L595.9,639.1L594.6,636.7L568.3,616.7L559.3,625.4ZM574.9,698.5L575.5,698.5L582.6,672.7L576.8,651.7L557.6,639.9L546.2,647.9ZM595.9,639.1L576.8,651.7L582.6,672.7L623.3,659.4L622.1,655.6L622.0,654.9ZM625.8,667.2L623.3,659.4L582.6,672.7L575.5,698.5L603.1,700.2ZM568.5,614.7L568.3,616.7L594.6,636.7L596.5,614.5L575.5,606.3ZM594.6,636.7L595.9,639.1L622.0,654.9L618.0,631.6L618.4,612.4L618.5,611.8L603.3,608.6L596.5,614.5ZM603.1,700.2L635.8,702.2L634.4,694.4L630.1,680.7L625.8,667.2Z"/></defs><use href="#k24" fill="#abcb9f" stroke="#abcb9f" stroke-width="0.4"/>
<defs><path id="k25" d="M460.8,409.2L457.5,399.1L448.9,395.1L439.3,402.6L443.5,414.4L458.8,412.7ZM478.0,408.3L475.6,396.7L466.0,391.2L457.5,399.1L460.8,409.2ZM545.7,487.1L544.4,476.9L533.3,468.1L530.7,468.2L525.8,485.4L543.8,490.8ZM480.2,506.1L478.7,496.8L472.5,489.7L471.4,489.6L452.8,500.4L463.2,518.3L476.8,517.1Z"/></defs><use href="#k25" fill="#4f8ba0" stroke="#4f8ba0" stroke-width="0.4"/>
<g opacity="0.2" class="bd" stroke-dasharray="1.6,0.9"><use href="#k22"/></g>
<g opacity="0.32" class="bd"><use href="#k23"/><use href="#k24"/><use href="#k25"/></g>
<defs><path id="k26" d="M274.1,477.1L295.6,473.8L291.2,456.7L270.6,460.2ZM396.0,448.3L414.5,442.0L405.4,425.6L387.7,431.6ZM414.5,442.0L432.1,435.2L422.3,419.1L405.4,425.6ZM299.6,489.2L321.4,485.4L316.6,470.0L295.6,473.8ZM321.4,485.4L342.8,481.0L337.2,465.7L316.6,470.0ZM342.8,481.0L363.7,475.7L357.4,460.5L337.2,465.7ZM383.9,469.4L403.5,463.0L396.0,448.3L376.9,454.5ZM403.5,463.0L422.5,456.3L414.5,442.0L396.0,448.3Z"/></defs><use href="#k26" fill="#fae38e" stroke="#fae38e" stroke-width="0.4"/>
<defs><path id="k27" d="M295.6,473.8L316.6,470.0L311.4,452.7L291.2,456.7ZM337.2,465.7L357.4,460.5L350.5,443.0L331.2,448.1ZM376.9,454.5L396.0,448.3L387.7,431.6L369.3,437.4ZM277.3,492.4L299.6,489.2L295.6,473.8L274.1,477.1Z"/></defs><use href="#k27" fill="#b9b9b9" stroke="#b9b9b9" stroke-width="0.4"/>
<defs><path id="k28" d="M316.6,470.0L337.2,465.7L331.2,448.1L311.4,452.7ZM357.4,460.5L376.9,454.5L369.3,437.4L350.5,443.0ZM363.7,475.7L383.9,469.4L376.9,454.5L357.4,460.5ZM274.1,477.1L270.6,460.2L234.0,465.2L236.8,482.0ZM277.3,492.4L274.1,477.1L236.8,482.0L239.5,497.2Z"/></defs><use href="#k28" fill="#abcb9f" stroke="#abcb9f" stroke-width="0.4"/>
<g opacity="0.2" class="bd" stroke-dasharray="1.6,0.9"><use href="#k27"/></g>
<g opacity="0.32" class="bd"><use href="#k26"/><use href="#k28"/></g>
<defs><path id="k29" d="M246.4,422.3L243.5,407.0L225.1,410.2L227.5,425.8ZM246.4,422.3L265.7,418.2L262.3,403.3L243.5,407.0ZM265.7,418.2L284.9,413.6L281.0,399.2L262.3,403.3ZM284.9,413.6L303.8,408.9L299.4,394.9L281.0,399.2ZM303.8,408.9L322.3,404.2L317.4,390.6L299.4,394.9ZM322.3,404.2L341.3,399.5L338.7,393.0L336.0,393.4L332.9,387.0L317.4,390.6ZM247.2,436.8L244.4,422.7L227.5,425.7L229.8,440.1ZM286.8,427.7L306.1,422.8L301.9,409.3L283.0,414.1ZM306.1,422.8L325.1,417.9L320.4,404.6L301.9,409.3ZM325.1,417.9L343.7,413.1L338.6,400.1L320.4,404.6ZM250.4,451.2L247.2,436.8L229.8,440.1L232.2,455.0ZM290.9,442.0L310.8,437.1L306.1,422.8L286.8,427.7ZM310.8,437.1L330.2,432.0L325.1,417.9L306.1,422.8ZM330.2,432.0L349.2,427.0L343.7,413.1L325.1,417.9ZM349.2,427.0L367.8,422.1L361.9,408.7L343.7,413.1ZM367.8,422.1L386.0,417.3L379.6,404.2L361.9,408.7ZM386.0,417.3L403.6,412.5L396.8,399.7L379.6,404.2ZM253.9,466.3L250.4,451.2L232.2,455.0L234.8,470.4ZM274.8,461.8L295.5,457.1L290.9,442.0L270.8,446.8ZM295.5,457.1L315.8,452.2L310.8,437.1L290.9,442.0ZM315.8,452.2L335.7,447.1L330.2,432.0L310.8,437.1ZM335.7,447.1L355.2,441.8L349.2,427.0L330.2,432.0ZM355.2,441.8L374.2,436.4L367.8,422.1L349.2,427.0ZM374.2,436.4L392.8,431.2L386.0,417.3L367.8,422.1Z"/></defs><use href="#k29" fill="#b9b9b9" stroke="#b9b9b9" stroke-width="0.4"/>
<defs><path id="k30" d="M247.2,436.8L267.1,432.5L263.8,418.6L244.4,422.7ZM250.4,451.2L270.8,446.8L267.1,432.5L247.2,436.8ZM253.9,466.3L274.8,461.8L270.8,446.8L250.4,451.2ZM392.8,431.2L410.8,426.1L403.6,412.5L386.0,417.3Z"/></defs><use href="#k30" fill="#fae38e" stroke="#fae38e" stroke-width="0.4"/>
<defs><path id="k31" d="M267.1,432.5L286.8,427.7L283.0,414.1L263.8,418.6ZM270.8,446.8L290.9,442.0L286.8,427.7L267.1,432.5Z"/></defs><use href="#k31" fill="#abcb9f" stroke="#abcb9f" stroke-width="0.4"/>
<g opacity="0.2" class="bd" stroke-dasharray="1.6,0.9"><use href="#k29"/></g>
<g opacity="0.32" class="bd"><use href="#k30"/><use href="#k31"/></g>
<defs><path id="k32" d="M248.5,368.9L245.9,357.8L217.1,363.3L219.0,374.5ZM248.5,368.9L265.9,365.1L262.8,354.3L259.0,355.1L245.9,357.8ZM265.9,365.1L283.2,361.2L279.6,350.7L262.8,354.3ZM300.4,357.0L317.4,352.7L312.9,342.8L296.4,346.8ZM251.4,380.8L248.5,368.9L219.0,374.5L221.1,386.7ZM287.1,372.6L304.9,368.1L300.4,357.0L283.2,361.2ZM304.9,368.1L322.4,363.6L322.4,363.5L317.4,352.7L300.4,357.0ZM254.3,393.0L251.4,380.8L221.1,386.7L223.2,399.0ZM272.7,388.8L291.1,384.3L287.1,372.6L269.3,376.9ZM309.4,379.5L327.3,374.8L322.4,363.6L304.9,368.1ZM276.4,401.7L295.4,396.9L291.1,384.3L272.7,388.8ZM295.4,396.9L314.3,391.9L309.4,379.5L291.1,384.3ZM314.3,391.9L332.9,386.9L331.2,383.5L327.3,374.8L309.4,379.5Z"/></defs><use href="#k32" fill="#b9b9b9" stroke="#b9b9b9" stroke-width="0.4"/>
<defs><path id="k33" d="M283.2,361.2L300.4,357.0L296.4,346.8L279.6,350.7ZM269.3,376.9L287.1,372.6L283.2,361.2L265.9,365.1ZM254.3,393.0L272.7,388.8L269.3,376.9L251.4,380.8ZM291.1,384.3L309.4,379.5L304.9,368.1L287.1,372.6Z"/></defs><use href="#k33" fill="#fae38e" stroke="#fae38e" stroke-width="0.4"/>
<defs><path id="k34" d="M251.4,380.8L269.3,376.9L265.9,365.1L248.5,368.9ZM257.3,406.1L254.3,393.0L223.2,399.0L225.4,412.2ZM257.3,406.1L276.4,401.7L272.7,388.8L254.3,393.0Z"/></defs><use href="#k34" fill="#abcb9f" stroke="#abcb9f" stroke-width="0.4"/>
<g opacity="0.2" class="bd" stroke-dasharray="1.6,0.9"><use href="#k32"/></g>
<g opacity="0.32" class="bd"><use href="#k33"/><use href="#k34"/></g>
<defs><path id="k35" d="M88.4,541.3L68.5,549.2L74.2,559.7L89.1,566.8L102.6,565.9L103.7,538.1ZM103.7,538.1L102.6,565.9L122.5,582.8L147.7,593.4L159.3,596.0L156.7,524.6ZM156.7,524.6L159.3,596.0L198.8,559.5L198.9,513.8ZM198.9,513.8L198.8,559.5L228.1,568.6L246.7,537.8L228.7,534.6L224.8,526.2L208.8,523.5ZM198.8,559.5L159.3,596.0L218.4,592.9L232.6,574.3L228.1,568.6ZM159.3,596.0L162.3,609.2L170.1,626.9L180.5,653.3L197.5,660.8L196.5,668.9L227.3,671.5L218.4,592.9ZM218.4,592.9L227.3,671.5L269.3,675.2L269.8,667.9L274.5,655.4L281.1,640.2L284.6,617.5L297.5,611.2L299.7,604.0L284.5,595.2L232.6,574.3ZM246.7,537.8L228.1,568.6L232.6,574.3L284.5,595.2L283.6,584.4L294.2,581.8L292.2,562.5L313.4,552.8L307.2,542.3L297.1,541.3L274.0,533.9L250.5,533.2ZM292.2,562.5L294.2,581.8L283.6,584.4L284.5,595.2L299.7,604.0L310.4,603.2L331.8,599.7L324.4,572.5L320.1,555.1L313.4,552.8ZM324.4,572.5L331.8,599.7L342.4,598.8L356.4,601.7L370.3,608.3L389.7,615.2L374.7,561.2ZM231.8,509.2L233.5,522.0L255.5,517.6L254.0,500.5ZM224.8,526.2L228.7,534.6L246.7,537.8L250.5,533.2L260.7,532.5L255.5,517.6L233.5,522.0ZM198.9,513.8L208.8,523.5L224.8,526.2L233.5,522.0L230.5,506.7Z"/></defs><use href="#k35" fill="#b9b9b9" stroke="#b9b9b9" stroke-width="0.4"/>
<g opacity="0.2" class="bd" stroke-dasharray="1.6,0.9"><use href="#k35"/></g>
<text x="239.4" y="394.5" font-size="14.6" textLength="52.9" lengthAdjust="spacingAndGlyphs" class="lh">Amarillo</text><text x="239.4" y="394.5" font-size="14.6" textLength="52.9" lengthAdjust="spacingAndGlyphs" class="lf">Amarillo</text>
<text x="451.6" y="419.4" font-size="14.6" textLength="37.4" lengthAdjust="spacingAndGlyphs" class="lh">Dallas</text><text x="451.6" y="419.4" font-size="14.6" textLength="37.4" lengthAdjust="spacingAndGlyphs" class="lf">Dallas</text>
<text x="534.7" y="398.2" font-size="14.6" textLength="67.6" lengthAdjust="spacingAndGlyphs" class="lh">Shreveport</text><text x="534.7" y="398.2" font-size="14.6" textLength="67.6" lengthAdjust="spacingAndGlyphs" class="lf">Shreveport</text>
<text x="83.5" y="417.8" font-size="14.6" textLength="53.7" lengthAdjust="spacingAndGlyphs" class="lh">Santa Fe</text><text x="83.5" y="417.8" font-size="14.6" textLength="53.7" lengthAdjust="spacingAndGlyphs" class="lf">Santa Fe</text>
</g>
<g clip-path="url(#cr1)">
<rect x="626" y="341" width="434" height="160" fill="#e9eef2"/>
<path d="M621.0,373.0L638.0,369.2L711.3,352.5L766.0,340.0M711.3,352.5L712.8,363.0M742.6,345.6L742.0,340.0M1048.5,381.9L1066.0,376.2L1121.0,360.0M1032.0,372.5L1016.0,345.0L1011.0,338.0" fill="none" stroke="#a9afb5" stroke-width="0.8" stroke-dasharray="2.2,1.6"/>
<defs><path id="k36" d="M727.4,372.8L727.4,372.8L727.4,372.8L727.4,372.8L727.4,372.8L727.4,372.8L727.4,372.8L727.4,372.8L727.4,372.8L727.4,372.8L727.4,372.8L744.1,368.8L744.1,368.8L744.1,368.8L744.1,368.8L744.1,368.8L744.1,368.8L744.1,368.8L744.1,368.8L744.1,368.8L744.1,368.8L744.1,368.8L744.1,368.8L744.1,368.8L744.1,368.8L744.1,368.8L744.1,368.8L744.1,368.8L742.3,357.7L742.3,357.7L742.3,357.7L742.3,357.7L742.3,357.7L742.3,357.7L742.3,357.7L742.3,357.7L742.3,357.7L742.3,357.7L742.3,357.7L742.3,357.7L742.3,357.7L742.3,357.7L742.3,357.7L742.3,357.7L742.3,357.7L725.1,361.0L713.1,363.1L713.1,363.1L713.1,363.1L713.1,363.1L713.1,363.1L713.1,363.1L713.1,363.1L713.1,363.1L713.1,363.1L713.1,363.1L713.1,363.1L713.1,363.1L713.1,363.1L713.1,363.1L713.1,363.1L713.1,363.1L713.1,363.1L715.1,374.8L715.1,374.8L715.1,374.8L715.1,374.8L715.1,374.8L715.1,374.8L715.1,374.8L715.1,374.8L715.1,374.8L715.1,374.8L715.1,374.8L715.1,374.8L715.1,374.8L715.1,374.8L715.1,374.8L715.1,374.8L715.1,374.8L726.9,372.4ZM759.3,354.2L742.3,357.7L744.1,368.8L745.1,369.5L761.3,364.9ZM778.4,360.8L776.4,350.5L759.3,354.2L761.3,364.9L762.7,366.0ZM795.4,356.5L793.3,346.6L776.4,350.5L778.4,360.8L780.2,362.1ZM795.4,356.5L797.7,358.0L813.0,351.7L808.9,342.8L793.3,346.6ZM744.1,368.8L744.1,368.8L744.1,368.8L744.1,368.8L744.1,368.8L744.1,368.8L744.1,368.8L744.1,368.8L744.1,368.8L744.1,368.8L727.4,372.8L726.9,372.4L726.9,372.4L726.9,372.4L726.9,372.4L726.9,372.4L726.9,372.4L726.9,372.4L726.9,372.4L726.9,372.4L726.9,372.4L726.9,372.4L715.1,374.7L715.1,374.7L715.1,374.7L715.1,374.7L715.1,374.7L715.1,374.7L715.1,374.8L715.1,374.8L715.1,374.8L715.1,374.8L715.1,374.8L715.1,374.8L715.1,374.8L715.1,374.8L715.1,374.8L715.1,374.8L715.1,374.8L717.1,386.7L717.1,386.7L717.1,386.7L717.1,386.7L717.1,386.7L717.1,386.7L717.1,386.7L717.1,386.7L717.1,386.7L717.1,386.7L717.1,386.7L717.1,386.7L717.1,386.7L717.1,386.7L717.1,386.7L717.1,386.7L717.1,386.7L729.2,384.3L729.8,384.8L729.8,384.8L729.8,384.8L729.8,384.8L729.8,384.8L729.8,384.8L729.8,384.8L729.8,384.8L729.8,384.8L729.8,384.8L729.8,384.8L746.9,380.5L746.9,380.5L746.9,380.5L746.9,380.5L746.9,380.5L746.9,380.5L746.9,380.5L746.9,380.5L746.9,380.5L746.9,380.5L746.9,380.5L746.9,380.5L746.9,380.5L746.9,380.5L746.9,380.5L746.9,380.5L745.1,369.5L745.1,369.5L745.1,369.5L745.1,369.5L745.1,369.5L745.1,369.5L745.1,369.5L745.1,369.5L744.1,368.8ZM797.7,358.0L795.4,356.5L780.2,362.1L782.2,372.0L784.1,373.4L799.7,367.4ZM797.7,358.0L799.7,367.4L802.1,369.0L817.9,362.4L813.0,351.7ZM732.2,397.3L732.2,397.3L732.2,397.3L732.2,397.3L732.2,397.3L732.2,397.3L732.2,397.3L732.2,397.3L732.2,397.3L732.2,397.3L749.9,392.9L749.9,392.9L749.9,392.9L749.9,392.9L749.9,392.9L749.9,392.9L749.9,392.9L749.9,392.9L749.9,392.9L749.9,392.9L749.9,392.9L749.9,392.9L749.9,392.9L749.9,392.9L749.9,392.9L749.9,392.9L749.9,392.9L748.0,381.4L748.0,381.4L748.0,381.4L748.0,381.4L748.0,381.4L748.0,381.4L748.0,381.4L748.0,381.4L746.9,380.5L746.9,380.5L746.9,380.5L746.9,380.5L746.9,380.5L746.9,380.5L746.9,380.5L746.9,380.5L746.9,380.5L746.9,380.5L746.9,380.5L729.8,384.8L729.2,384.3L729.2,384.3L729.2,384.3L729.2,384.3L729.2,384.3L729.2,384.3L729.2,384.3L729.2,384.3L729.2,384.3L729.2,384.3L729.2,384.3L717.1,386.7L717.1,386.7L717.1,386.7L717.1,386.7L717.1,386.7L717.1,386.7L717.1,386.7L717.1,386.7L717.1,386.7L717.1,386.7L717.1,386.7L717.1,386.7L717.1,386.7L717.1,386.7L717.1,386.7L717.1,386.7L717.1,386.7L719.3,399.3L719.3,399.3L719.3,399.3L719.3,399.3L719.3,399.3L719.3,399.3L719.3,399.3L719.3,399.3L719.3,399.3L719.3,399.3L719.3,399.3L719.3,399.3L719.3,399.3L719.3,399.3L719.3,399.3L719.3,399.3L719.3,399.3L731.7,396.8L732.2,397.3ZM784.1,373.4L782.2,372.0L766.1,377.6L768.0,388.6L769.6,389.7L786.2,383.9ZM802.1,369.0L804.2,379.0L806.8,380.6L822.9,373.7L818.4,363.5L817.9,362.4ZM778.3,402.8L790.1,394.8L788.2,385.3L786.2,383.9L769.6,389.7L771.3,399.4ZM788.2,385.3L790.1,394.8L796.9,398.0L808.8,390.1L806.8,380.6L804.2,379.0ZM808.8,390.1L815.1,393.0L828.0,385.2L827.2,383.5L822.9,373.7L806.8,380.6ZM740.7,423.6L742.0,421.7L740.4,411.4L733.8,407.5L721.8,414.4L723.4,425.0ZM752.5,403.7L740.4,411.4L742.0,421.7L760.2,419.4L761.2,417.8L759.5,407.4ZM780.2,413.5L798.6,409.6L798.9,409.0L796.9,398.0L790.1,394.8L778.3,402.8ZM817.3,404.6L815.1,393.0L808.8,390.1L796.9,398.0L798.9,409.0L817.3,404.6ZM815.1,393.0L817.3,404.6L833.7,400.4L834.1,393.0L832.0,393.4L828.0,385.2ZM743.0,436.8L740.7,423.6L723.4,425.0L725.8,440.2ZM780.2,413.5L779.6,414.6L782.1,427.5L783.3,428.3L801.3,422.4L798.6,409.6ZM817.3,404.6L798.9,409.0L798.6,409.6L801.3,422.4L802.9,423.5L820.1,417.4ZM837.4,412.9L836.1,403.1L833.7,400.4L817.3,404.6L817.3,404.6L820.1,417.4L822.1,418.8ZM837.4,412.9L841.3,415.8L856.4,407.6L852.0,399.1L836.1,403.1ZM746.3,451.4L743.3,437.0L743.0,436.8L725.8,440.2L728.2,455.0ZM806.0,436.8L802.9,423.5L801.3,422.4L783.3,428.3L786.4,441.9L787.4,442.5ZM825.2,431.6L822.1,418.8L820.1,417.4L802.9,423.5L806.0,436.8L807.4,437.7ZM825.2,431.6L827.1,432.9L844.0,426.5L841.3,415.8L837.4,412.9L822.1,418.8ZM859.1,408.9L856.4,407.6L841.3,415.8L844.0,426.5L846.3,428.0L862.4,421.4ZM787.4,442.5L786.4,441.9L767.0,447.1L770.2,460.1L788.2,459.7L790.9,456.1ZM811.1,451.7L807.4,437.7L806.0,436.8L787.4,442.5L790.9,456.1L808.5,455.3ZM830.9,447.0L827.1,432.9L825.2,431.6L807.4,437.7L811.1,451.7L828.5,450.5ZM848.0,445.3L850.2,441.8L846.3,428.0L844.0,426.5L827.1,432.9L830.9,447.0ZM880.4,416.4L877.3,405.5L872.2,402.0L859.1,408.9L862.4,421.4L865.2,423.2ZM880.4,416.4L865.2,423.2L869.1,436.5L885.8,434.3L887.4,431.1L883.6,418.5ZM867.1,439.8L872.0,454.0L873.9,455.1L890.9,447.8L885.8,434.3L869.1,436.5ZM746.5,467.7L749.3,463.8L746.4,451.4L746.3,451.4L728.2,455.0L730.3,467.3ZM790.9,456.1L788.2,459.7L791.2,473.7L791.9,474.2L812.1,469.8L808.5,455.3ZM833.9,466.2L852.5,460.1L848.0,445.3L830.9,447.0L828.5,450.5L832.6,465.3ZM773.1,492.3L793.5,491.2L795.2,488.8L791.9,474.2L791.2,473.7L770.3,477.4ZM793.5,491.2L773.1,492.3L772.0,493.9L775.9,513.1L776.5,513.5L797.6,509.5ZM814.9,487.9L795.2,488.8L793.5,491.2L797.6,509.5L800.1,510.9L819.3,505.8ZM823.5,507.9L829.0,506.0L839.5,496.6L836.2,484.1L816.9,485.1L814.9,487.9L819.3,505.8ZM839.5,496.6L850.7,500.5L861.2,493.5L857.2,479.4L838.3,481.0L836.2,484.1ZM917.0,488.4L939.0,488.5L941.6,478.7L932.9,469.1L921.6,472.1ZM916.6,488.7L921.7,506.7L932.8,509.9L944.0,499.1L939.0,488.5L917.0,488.4ZM882.8,490.5L872.9,498.3L874.9,515.7L878.0,518.0L898.3,508.1L896.5,493.5ZM847.0,532.1L851.4,540.7L858.6,540.3L882.1,529.3L878.0,518.0L874.9,515.7L854.0,518.7L853.5,519.2ZM892.0,550.7L889.4,536.7L882.1,529.3L858.6,540.3L886.4,553.9ZM750.8,495.7L748.3,499.1L754.5,515.9L775.9,513.1L772.0,493.9ZM732.4,518.7L752.6,519.0L754.5,515.9L748.3,499.1L735.9,499.9L736.6,503.8L728.3,505.6ZM732.4,518.7L664.9,624.2L666.1,626.9L676.5,653.3L693.5,660.8L692.5,668.9L726.0,671.7L756.7,614.9L752.6,519.0ZM732.4,518.7L728.3,505.6L584.4,541.3L564.5,549.2L570.2,559.7L585.1,566.8L598.6,565.9L618.5,582.8L643.7,593.4L655.3,596.0L658.3,609.2L664.9,624.2ZM776.5,513.5L775.9,513.1L754.5,515.9L752.6,519.0L756.7,614.9L787.6,575.3ZM800.1,510.9L797.6,509.5L776.5,513.5L787.6,575.3L791.6,572.2L806.5,543.0ZM800.1,510.9L806.5,543.0L828.1,528.5L823.5,507.9L819.3,505.8ZM854.0,518.7L854.0,518.7L854.0,518.7L854.0,518.7L854.0,518.7L854.0,518.7L854.0,518.7L854.0,518.7L854.0,518.7L854.0,518.7L850.7,500.5L850.7,500.5L850.7,500.5L850.7,500.5L850.7,500.5L850.7,500.5L850.7,500.5L850.7,500.5L850.7,500.5L850.7,500.5L850.7,500.5L850.7,500.5L839.5,496.6L839.5,496.6L839.5,496.6L839.5,496.6L839.5,496.6L839.5,496.6L839.5,496.6L839.5,496.6L839.5,496.6L839.5,496.6L839.5,496.6L839.5,496.6L829.0,506.0L823.5,507.9L823.5,507.9L823.5,507.9L823.5,507.9L823.5,507.9L823.5,507.9L823.5,507.9L823.5,507.9L823.5,507.9L823.5,507.9L823.5,507.9L823.5,507.9L823.5,507.9L823.5,507.9L823.5,507.9L828.1,528.5L828.1,528.5L828.1,528.5L828.1,528.5L828.1,528.5L828.1,528.5L828.1,528.5L828.1,528.5L828.1,528.5L828.1,528.5L828.1,528.5L828.1,528.5L828.1,528.5L847.0,532.1L847.0,532.1L847.0,532.1L847.0,532.1L847.0,532.1L847.0,532.1L847.0,532.1L847.0,532.1L847.0,532.1L847.0,532.1L847.0,532.1L847.0,532.1L847.0,532.1L847.0,532.1L853.5,519.2ZM791.6,572.2L839.4,564.0L850.0,550.1L851.4,540.7L847.0,532.1L828.1,528.5L806.5,543.0ZM858.6,540.3L851.4,540.7L850.0,550.1L876.8,564.0L886.4,553.9ZM876.8,564.0L850.0,550.1L839.4,564.0L871.1,592.9ZM871.9,595.3L871.1,592.9L839.4,564.0L791.6,572.2L787.6,575.3L756.7,614.9L726.0,671.7L765.3,675.2L765.8,667.9L770.5,655.4L777.1,640.2L780.6,617.5L793.5,611.2L795.7,604.0L806.4,603.2L827.8,599.7L838.4,598.8L852.4,601.7L866.3,608.3L865.4,610.1L868.3,611.3ZM833.7,400.4L836.1,403.1L852.0,399.1L853.2,389.0L852.2,388.5L850.9,391.3L839.1,392.3L834.1,393.0Z"/></defs><use href="#k36" fill="#b9b9b9" stroke="#b9b9b9" stroke-width="0.4"/>
<defs><path id="k37" d="M761.3,364.9L745.1,369.5L746.9,380.5L748.0,381.4L764.6,376.4L762.7,366.0ZM782.2,372.0L780.2,362.1L778.4,360.8L762.7,366.0L764.6,376.4L766.1,377.6ZM766.1,377.6L764.6,376.4L748.0,381.4L749.8,392.9L750.9,393.7L768.0,388.6ZM802.1,369.0L799.7,367.4L784.1,373.4L786.2,383.9L788.2,385.3L804.2,379.0ZM750.9,393.7L750.9,393.7L750.9,393.7L750.9,393.7L750.9,393.7L750.9,393.7L750.9,393.7L749.9,392.9L749.9,392.9L749.9,392.9L749.9,392.9L749.9,392.9L749.9,392.9L749.9,392.9L749.8,392.9L749.8,392.9L749.8,392.9L749.8,392.9L732.2,397.3L731.7,396.8L731.7,396.8L731.7,396.8L731.7,396.8L731.7,396.8L731.7,396.8L731.7,396.8L731.7,396.8L731.7,396.8L731.7,396.8L719.3,399.3L719.3,399.3L719.3,399.3L719.3,399.3L719.3,399.3L719.3,399.3L719.3,399.3L719.3,399.3L719.3,399.3L719.3,399.3L719.3,399.3L719.3,399.3L719.3,399.3L719.3,399.3L719.3,399.3L719.3,399.3L719.3,399.3L721.7,414.4L721.7,414.4L721.7,414.4L721.7,414.4L721.7,414.4L721.7,414.4L721.7,414.4L721.7,414.4L721.7,414.4L721.7,414.4L721.7,414.4L721.7,414.4L721.7,414.4L721.7,414.4L721.7,414.4L721.8,414.4L721.8,414.4L721.8,414.4L721.8,414.4L721.8,414.4L721.8,414.4L733.8,407.5L740.4,411.4L740.4,411.4L740.4,411.4L740.4,411.4L740.4,411.4L740.4,411.4L740.4,411.4L740.4,411.4L740.4,411.4L740.4,411.4L740.4,411.4L740.4,411.4L740.4,411.4L752.5,403.7L752.5,403.7L752.5,403.7L752.5,403.7L752.5,403.7L752.5,403.7L752.5,403.7L752.5,403.7L752.5,403.7L752.5,403.7L752.5,403.7L752.5,403.7L752.5,403.7L750.9,393.7ZM759.5,407.4L761.2,417.8L779.6,414.6L780.2,413.5L778.3,402.8L771.3,399.4ZM779.6,414.6L761.2,417.8L760.2,419.4L762.7,432.4L763.4,432.9L782.1,427.5ZM746.3,451.4L746.4,451.4L766.5,446.8L763.4,432.9L762.7,432.4L743.3,437.0ZM767.0,447.1L786.4,441.9L783.3,428.3L782.1,427.5L763.4,432.9L766.5,446.8ZM862.4,421.4L846.3,428.0L850.2,441.8L867.1,439.8L869.1,436.5L865.2,423.2ZM852.0,399.1L856.4,407.6L859.1,408.9L872.2,402.0L871.2,392.4L869.7,392.4L862.7,393.6L858.0,391.3L853.2,389.0ZM890.9,399.0L891.1,387.2L889.5,387.4L888.4,390.9L880.2,390.5L873.3,392.4L871.2,392.4L872.2,402.0L877.3,405.5ZM907.8,390.9L905.8,390.9L899.9,388.5L897.5,386.2L891.1,387.2L890.9,399.0L899.7,409.3L909.7,403.1ZM940.8,382.8L940.3,383.1L935.4,381.7L932.2,386.7L927.4,385.4L924.9,388.3L927.0,398.0L935.3,402.6L944.9,395.1ZM962.0,391.2L959.8,381.4L951.2,382.5L946.2,380.6L940.8,382.8L944.9,395.1L953.5,399.1ZM971.6,376.8L965.4,378.2L960.8,381.3L959.8,381.4L962.0,391.2L971.6,396.7L982.6,389.5ZM982.6,389.5L984.1,389.8L993.4,383.8L988.4,369.3L979.3,372.7L979.3,372.1L973.7,376.3L971.6,376.8ZM899.4,410.7L883.6,418.5L887.4,431.1L903.9,428.7L905.7,424.5ZM917.4,406.1L909.7,403.1L899.7,409.3L899.4,410.7L905.7,424.5L920.7,421.7L922.2,418.5ZM938.4,416.3L939.5,414.4L935.3,402.6L927.0,398.0L917.4,406.1L922.2,418.5ZM984.1,389.8L982.6,389.5L971.6,396.7L974.0,408.3L979.4,412.6L986.5,410.1L989.4,398.5ZM1000.6,399.4L1004.8,394.3L999.0,385.5L993.4,383.8L984.1,389.8L989.4,398.5ZM986.5,410.1L990.9,411.7L1003.7,408.7L1000.6,399.4L989.4,398.5ZM1011.3,413.4L1003.7,408.7L990.9,411.7L999.8,423.0L1011.7,415.0ZM905.7,424.5L903.9,428.7L909.2,441.5L915.7,444.8L926.2,437.3L926.4,436.2L920.7,421.7ZM986.5,410.1L979.4,412.6L978.9,420.3L985.1,428.8L999.1,427.4L999.8,423.0L990.9,411.7ZM985.1,428.8L983.8,441.5L985.7,445.0L1001.7,443.9L1006.3,435.3L999.1,427.4ZM887.4,431.1L885.8,434.3L890.9,447.8L893.1,449.1L909.2,441.5L903.9,428.7ZM770.2,460.1L767.0,447.1L766.5,446.8L746.4,451.4L749.3,463.8L767.5,463.8ZM767.5,463.8L767.5,463.8L767.5,463.8L767.5,463.8L767.5,463.8L767.5,463.8L767.5,463.8L767.5,463.8L767.5,463.8L767.5,463.8L767.5,463.8L767.5,463.8L767.5,463.8L767.5,463.8L749.3,463.8L749.2,463.8L749.2,463.8L749.2,463.8L749.2,463.8L749.2,463.8L749.2,463.8L749.2,463.8L749.2,463.8L749.2,463.8L749.2,463.8L749.2,463.8L746.5,467.7L730.3,467.3L730.3,467.3L730.3,467.3L730.3,467.3L730.3,467.3L730.3,467.3L730.3,467.3L730.3,467.3L730.3,467.3L730.3,467.3L730.3,467.3L730.3,467.3L730.3,467.3L730.3,467.3L730.3,467.3L730.3,467.3L730.3,467.3L730.3,467.3L730.3,467.3L732.8,482.1L732.8,482.1L732.8,482.1L732.8,482.1L732.8,482.1L732.8,482.1L732.8,482.1L732.8,482.1L732.8,482.1L732.8,482.1L732.8,482.1L732.8,482.1L732.8,482.1L732.8,482.1L732.8,482.1L732.8,482.1L732.8,482.1L748.3,480.1L748.4,480.2L748.4,480.2L748.4,480.2L748.4,480.2L748.4,480.2L748.4,480.2L748.4,480.2L748.4,480.2L748.4,480.2L748.4,480.2L769.9,477.1L769.9,477.1L769.9,477.1L769.9,477.1L769.9,477.1L769.9,477.1L769.9,477.1L769.9,477.1L769.9,477.1L769.9,477.1L769.9,477.1L769.9,477.1L769.9,477.1L769.9,477.1L769.9,477.1L769.9,477.1L769.9,477.1L767.5,463.8ZM791.2,473.7L788.2,459.7L770.2,460.1L767.5,463.8L769.9,477.1L770.3,477.4ZM828.5,450.5L811.1,451.7L808.5,455.3L812.1,469.8L813.1,470.5L832.6,465.3ZM769.9,477.1L769.9,477.1L769.9,477.1L769.9,477.1L769.9,477.1L769.9,477.1L769.9,477.1L769.9,477.1L769.9,477.1L748.4,480.2L748.3,480.1L748.3,480.1L748.3,480.1L748.3,480.1L748.3,480.1L748.3,480.1L748.3,480.1L748.3,480.1L748.3,480.1L748.3,480.1L732.8,482.1L732.8,482.1L732.8,482.1L732.8,482.1L732.8,482.1L732.8,482.1L732.8,482.1L732.8,482.1L732.8,482.1L732.8,482.1L732.8,482.1L732.8,482.1L732.8,482.1L732.8,482.1L732.8,482.1L732.8,482.1L732.8,482.1L735.9,499.9L735.9,499.9L735.9,499.9L735.9,499.9L735.9,499.9L735.9,499.9L735.9,499.9L735.9,499.9L735.9,499.9L735.9,499.9L735.9,499.9L735.9,499.9L735.9,499.9L735.9,499.9L735.9,499.9L735.9,499.9L748.3,499.1L748.3,499.1L748.3,499.1L748.3,499.1L748.3,499.1L748.3,499.1L748.3,499.1L748.3,499.1L748.3,499.1L748.3,499.1L750.8,495.7L772.0,493.9L772.0,493.9L772.0,493.9L772.0,493.9L772.0,493.9L772.0,493.9L772.0,493.9L772.0,493.9L772.0,493.9L772.0,493.9L773.1,492.3L773.1,492.3L773.1,492.3L773.1,492.3L773.1,492.3L773.1,492.3L773.1,492.3L773.1,492.3L773.1,492.3L770.3,477.4L770.3,477.4L770.3,477.4L770.3,477.4L770.3,477.4L770.3,477.4L770.3,477.4L770.3,477.4L769.9,477.1ZM816.9,485.1L813.1,470.5L812.1,469.8L791.9,474.2L795.2,488.8L814.9,487.9ZM836.2,484.1L838.3,481.0L833.9,466.2L832.6,465.3L813.1,470.5L816.9,485.1ZM859.2,476.3L877.8,473.8L879.6,470.8L873.9,455.1L872.0,454.0L854.2,461.1ZM857.2,479.4L861.2,493.5L872.9,498.3L882.8,490.5L877.8,473.8L859.2,476.3ZM897.9,467.7L899.5,465.3L893.1,449.1L890.9,447.8L873.9,455.1L879.6,470.8ZM966.2,459.6L966.3,459.1L960.0,445.3L948.5,442.3L940.5,449.5L940.1,454.7L955.6,464.1ZM983.8,441.5L966.1,436.4L960.0,445.3L966.3,459.1L985.1,447.9L985.7,445.0ZM985.7,445.0L985.1,447.9L992.1,461.2L1009.3,461.0L1012.1,458.7L1001.7,443.9ZM987.8,472.5L992.1,461.2L985.1,447.9L966.3,459.1L966.2,459.6L976.0,472.6ZM992.1,461.2L987.8,472.5L994.5,479.2L1007.0,477.8L1009.3,461.0ZM921.6,472.1L932.9,469.1L934.6,459.6L917.0,451.3L911.2,462.9ZM932.9,469.1L941.6,478.7L951.6,475.9L955.6,464.1L940.1,454.7L934.6,459.6ZM1007.0,477.8L994.5,479.2L994.2,491.9L1005.2,502.9L1017.0,494.7L1019.3,486.5ZM897.9,467.7L879.6,470.8L877.8,473.8L882.8,490.5L896.5,493.5L904.0,487.4ZM899.5,465.3L897.9,467.7L904.0,487.4L916.6,488.7L917.0,488.4L921.6,472.1L911.2,462.9ZM1027.1,383.7L1035.6,375.2L1032.0,371.3L1020.2,373.1L1011.0,373.3L1011.6,376.3L1013.7,378.7ZM1027.1,383.7L1029.7,392.0L1035.2,395.9L1040.0,394.6L1044.5,383.9L1037.7,377.5L1035.6,375.2ZM1033.3,408.2L1035.2,395.9L1029.7,392.0L1015.6,394.3L1014.4,395.9L1018.1,404.8L1033.1,408.4ZM1051.1,411.7L1054.5,402.1L1040.0,394.6L1035.2,395.9L1033.3,408.2ZM1003.7,408.7L1011.3,413.4L1018.1,404.8L1014.4,395.9L1004.8,394.3L1000.6,399.4ZM1033.0,415.1L1045.0,425.5L1053.5,416.6L1051.1,411.7L1033.3,408.2L1033.1,408.4ZM1075.1,408.6L1073.2,406.9L1058.4,400.7L1054.5,402.1L1051.1,411.7L1053.5,416.6L1064.3,422.0L1065.2,421.9ZM1090.7,423.3L1091.0,422.6L1075.1,408.6L1065.2,421.9L1078.6,432.2ZM999.8,423.0L999.1,427.4L1006.3,435.3L1015.0,434.6L1020.4,424.5L1011.7,415.0ZM1045.0,425.5L1033.0,415.1L1023.9,424.5L1042.2,438.3L1045.9,437.3ZM1064.3,422.0L1053.5,416.6L1045.0,425.5L1045.9,437.3L1056.9,441.3ZM1023.9,424.5L1020.4,424.5L1015.0,434.6L1024.5,446.0L1035.4,446.3L1042.2,438.3ZM1078.7,435.6L1091.0,448.0L1099.5,445.4L1090.7,423.3L1078.6,432.2ZM1090.7,423.3L1099.5,445.4L1106.0,446.8L1113.9,439.7L1110.0,437.1L1095.3,426.3L1091.0,422.6ZM1134.2,463.2L1124.6,446.6L1113.9,439.7L1106.0,446.8L1107.8,450.0L1133.7,463.5ZM1127.6,472.7L1137.6,485.7L1153.2,490.2L1149.5,479.9L1143.2,473.4L1134.6,463.8L1134.2,463.2L1133.7,463.5L1127.4,470.6ZM1064.3,443.9L1078.7,435.6L1078.6,432.2L1065.2,421.9L1064.3,422.0L1056.9,441.3L1058.0,442.3ZM1076.7,455.5L1088.6,452.8L1091.0,448.0L1078.7,435.6L1064.3,443.9ZM1001.7,443.9L1012.1,458.7L1015.6,458.8L1024.5,446.0L1015.0,434.6L1006.3,435.3ZM1056.9,441.3L1045.9,437.3L1042.2,438.3L1035.4,446.3L1040.6,459.0L1052.0,464.6L1056.1,462.8L1058.0,442.3ZM1090.8,473.9L1098.6,469.4L1088.6,452.8L1076.7,455.5L1075.0,464.3ZM1107.8,450.0L1106.0,446.8L1099.5,445.4L1091.0,448.0L1088.6,452.8L1098.6,469.4L1102.9,470.4L1109.4,466.2ZM1133.7,463.5L1107.8,450.0L1109.4,466.2L1127.4,470.6ZM1109.4,466.2L1102.9,470.4L1115.3,492.2L1115.5,492.1L1127.6,472.7L1127.4,470.6ZM1040.6,459.0L1035.4,446.3L1024.5,446.0L1015.6,458.8L1026.7,468.2L1029.3,468.1ZM1021.8,485.4L1026.7,468.2L1015.6,458.8L1012.1,458.7L1009.3,461.0L1007.0,477.8L1019.3,486.5ZM1071.8,480.8L1088.3,486.1L1090.8,473.9L1075.0,464.3L1069.8,467.6ZM1092.2,492.4L1111.3,496.8L1115.3,492.2L1102.9,470.4L1098.6,469.4L1090.8,473.9L1088.3,486.1ZM1115.5,492.1L1128.9,495.7L1137.6,485.7L1127.6,472.7ZM1064.2,487.0L1065.1,493.1L1081.5,508.6L1092.2,492.4L1088.3,486.1L1071.8,480.8ZM1114.9,516.8L1115.4,515.0L1111.3,496.8L1092.2,492.4L1081.5,508.6L1082.1,512.4L1107.6,521.7ZM1137.6,485.7L1128.9,495.7L1147.2,511.1L1153.0,504.2L1163.5,498.1L1153.6,491.2L1153.2,490.2ZM1115.3,492.2L1111.3,496.8L1115.4,515.0L1146.1,513.5L1146.3,512.2L1147.2,511.1L1128.9,495.7L1115.5,492.1ZM1096.3,541.9L1100.7,544.3L1107.7,534.3L1107.6,521.7L1082.1,512.4L1077.7,518.4L1077.1,520.9ZM1107.7,534.3L1134.4,548.6L1136.0,537.4L1138.3,540.7L1138.9,539.4L1114.9,516.8L1107.6,521.7ZM1115.4,515.0L1114.9,516.8L1138.9,539.4L1141.8,532.3L1144.9,522.2L1146.1,513.5ZM1040.9,493.1L1039.8,490.8L1021.8,485.4L1019.3,486.5L1017.0,494.7L1033.9,510.1L1034.9,510.0ZM1027.3,518.1L1033.9,510.1L1017.0,494.7L1005.2,502.9L1005.0,512.4ZM1047.7,516.4L1055.0,507.2L1054.0,500.2L1040.9,493.1L1034.9,510.0ZM1077.7,518.4L1082.1,512.4L1081.5,508.6L1065.1,493.1L1054.0,500.2L1055.0,507.2ZM1051.3,523.4L1073.8,524.3L1077.1,520.9L1077.7,518.4L1055.0,507.2L1047.7,516.4ZM1033.9,510.1L1027.3,518.1L1032.4,537.9L1038.0,540.6L1048.0,536.2L1051.3,523.4L1047.7,516.4L1034.9,510.0ZM1027.3,518.1L1005.0,512.4L1004.7,512.9L1003.0,522.8L1024.1,539.2L1032.4,537.9ZM1048.0,536.2L1070.0,547.3L1071.4,544.7L1073.8,524.3L1051.3,523.4ZM1071.4,544.7L1096.3,541.9L1077.1,520.9L1073.8,524.3ZM896.5,493.5L898.3,508.1L909.4,516.3L921.7,506.7L916.6,488.7L904.0,487.4ZM1005.0,512.4L1005.2,502.9L994.2,491.9L974.7,496.8L976.2,506.1L1004.7,512.9ZM976.2,506.1L972.8,517.1L977.9,524.2L999.4,526.3L1003.0,522.8L1004.7,512.9ZM977.4,537.4L994.6,544.8L999.1,540.1L999.4,526.3L977.9,524.2ZM898.3,508.1L878.0,518.0L882.1,529.3L889.4,536.7L909.8,522.2L909.4,516.3ZM909.4,516.3L909.8,522.2L923.2,535.7L928.9,534.5L936.8,522.3L932.8,509.9L921.7,506.7ZM959.2,518.3L948.8,500.4L944.0,499.1L932.8,509.9L936.8,522.3L953.9,525.0ZM959.2,518.3L953.9,525.0L955.8,535.5L973.3,542.3L977.4,537.4L977.9,524.2L972.8,517.1ZM953.9,525.0L936.8,522.3L928.9,534.5L946.8,549.2L947.1,549.2L955.8,535.5ZM902.5,555.8L914.6,552.2L923.2,535.7L909.8,522.2L889.4,536.7L892.0,550.7ZM947.1,549.2L966.4,564.8L973.6,558.5L973.3,542.3L955.8,535.5ZM973.3,542.3L973.6,558.5L995.0,561.8L994.6,544.8L977.4,537.4ZM995.0,561.8L996.8,563.7L1016.0,562.7L1016.1,549.0L999.1,540.1L994.6,544.8ZM1003.0,522.8L999.4,526.3L999.1,540.1L1016.1,549.0L1024.1,539.2ZM923.2,535.7L914.6,552.2L933.0,565.6L946.8,549.2L928.9,534.5ZM876.8,564.0L871.1,592.9L871.9,595.3L906.8,584.0L902.5,555.8L892.0,550.7L886.4,553.9ZM933.0,565.6L914.6,552.2L902.5,555.8L906.8,584.0L914.3,588.2L935.2,576.4ZM922.3,615.7L922.5,614.1L914.3,588.2L906.8,584.0L871.9,595.3L868.3,611.3L876.0,614.5L886.6,622.8L894.7,628.7ZM946.8,549.2L933.0,565.6L935.2,576.4L944.6,582.2L966.0,569.3L966.4,564.8L947.1,549.2ZM949.5,597.7L944.6,582.2L935.2,576.4L914.3,588.2L922.5,614.1ZM981.6,592.5L966.0,569.3L944.6,582.2L949.5,597.7L958.6,604.4ZM981.6,592.6L981.6,592.5L958.6,604.4L961.1,619.5L965.9,631.1L971.4,634.3L996.4,621.4L996.6,620.8ZM923.8,617.3L961.1,619.5L958.6,604.4L949.5,597.7L922.5,614.1L922.3,615.7ZM966.4,564.8L966.0,569.3L981.6,592.5L981.6,592.6L996.5,583.2L996.8,563.7L995.0,561.8L973.6,558.5ZM1024.1,539.2L1016.1,549.0L1016.0,562.7L1025.9,571.8L1030.5,571.9L1042.2,556.0L1038.0,540.6L1032.4,537.9ZM1038.0,540.6L1042.2,556.0L1064.1,567.3L1066.2,566.2L1071.4,552.6L1070.0,547.3L1048.0,536.2ZM1070.0,547.3L1071.4,552.6L1097.8,561.5L1103.1,553.6L1100.7,544.3L1096.3,541.9L1071.4,544.7ZM1131.3,563.1L1133.1,558.2L1134.4,548.6L1107.7,534.3L1100.7,544.3L1103.1,553.6ZM1099.7,576.8L1120.1,590.1L1126.1,577.6L1131.3,563.1L1103.1,553.6L1097.8,561.5ZM1089.6,581.7L1099.7,576.8L1097.8,561.5L1071.4,552.6L1066.2,566.2ZM1042.2,556.0L1030.5,571.9L1045.8,585.8L1060.0,581.0L1064.1,567.3ZM1015.3,592.3L1016.4,591.8L1025.9,571.8L1016.0,562.7L996.8,563.7L996.5,583.2ZM1036.0,601.6L1045.7,592.9L1045.8,585.8L1030.5,571.9L1025.9,571.8L1016.4,591.8ZM1045.8,585.8L1045.7,592.9L1064.5,614.7L1071.5,606.3L1072.8,596.4L1060.0,581.0ZM1064.1,567.3L1060.0,581.0L1072.8,596.4L1087.3,591.3L1089.6,581.7L1066.2,566.2ZM1099.3,608.6L1114.5,611.8L1118.3,593.8L1120.1,590.1L1099.7,576.8L1089.6,581.7L1087.3,591.3ZM1072.8,596.4L1071.5,606.3L1092.5,614.5L1099.3,608.6L1087.3,591.3ZM1015.3,592.3L996.5,583.2L981.6,592.6L996.6,620.8L1012.5,615.5ZM1022.1,620.6L1037.3,612.7L1036.0,601.6L1016.4,591.8L1015.3,592.3L1012.5,615.5ZM1064.3,616.7L1064.5,614.7L1045.7,592.9L1036.0,601.6L1037.3,612.7L1055.3,625.4ZM939.6,642.3L965.9,631.1L961.1,619.5L923.8,617.3ZM965.9,631.1L939.6,642.3L935.2,666.7L938.1,669.2L953.5,682.5L953.9,690.9L958.1,691.2L977.7,655.5L971.4,634.3ZM894.7,628.7L900.9,633.2L911.8,643.6L923.0,656.2L935.2,666.7L939.6,642.3L923.8,617.3L922.3,615.7ZM996.4,621.4L971.4,634.3L977.7,655.5L1014.5,666.0L1015.6,663.1ZM1014.5,666.0L977.7,655.5L958.1,691.2L1020.3,695.3ZM996.6,620.8L996.4,621.4L1015.6,663.1L1036.4,647.6L1022.1,620.6L1012.5,615.5ZM1042.2,647.9L1053.6,639.9L1055.3,625.4L1037.3,612.7L1022.1,620.6L1036.4,647.6ZM1015.6,663.1L1014.5,666.0L1020.3,695.3L1070.9,698.5L1042.2,647.9L1036.4,647.6ZM1053.6,639.9L1072.8,651.7L1091.9,639.1L1090.6,636.7L1064.3,616.7L1055.3,625.4ZM1070.9,698.5L1071.5,698.5L1078.6,672.7L1072.8,651.7L1053.6,639.9L1042.2,647.9ZM1091.9,639.1L1072.8,651.7L1078.6,672.7L1119.3,659.4L1118.1,655.6L1118.0,654.9ZM1121.8,667.2L1119.3,659.4L1078.6,672.7L1071.5,698.5L1099.1,700.2ZM1064.5,614.7L1064.3,616.7L1090.6,636.7L1092.5,614.5L1071.5,606.3ZM1090.6,636.7L1091.9,639.1L1118.0,654.9L1114.0,631.6L1114.4,612.4L1114.5,611.8L1099.3,608.6L1092.5,614.5ZM1099.1,700.2L1131.8,702.2L1130.4,694.4L1126.1,680.7L1121.8,667.2Z"/></defs><use href="#k37" fill="#e5a164" stroke="#e5a164" stroke-width="0.4"/>
<defs><path id="k38" d="M769.6,389.7L768.0,388.6L750.9,393.7L752.5,403.7L759.5,407.4L771.3,399.4ZM899.4,410.7L899.7,409.3L890.9,399.0L877.3,405.5L880.4,416.4L883.6,418.5ZM920.7,421.7L926.4,436.2L941.8,428.4L938.4,416.3L922.2,418.5ZM945.7,431.4L960.7,425.4L954.8,412.7L939.5,414.4L938.4,416.3L941.8,428.4ZM960.7,425.4L963.4,427.1L978.9,420.3L979.4,412.6L974.0,408.3L956.8,409.2L954.8,412.7ZM978.9,420.3L963.4,427.1L966.1,436.4L983.8,441.5L985.1,428.8ZM926.2,437.3L940.5,449.5L948.5,442.3L945.7,431.4L941.8,428.4L926.4,436.2ZM960.0,445.3L966.1,436.4L963.4,427.1L960.7,425.4L945.7,431.4L948.5,442.3ZM854.2,461.1L872.0,454.0L867.1,439.8L850.2,441.8L848.0,445.3L852.5,460.1ZM874.9,515.7L872.9,498.3L861.2,493.5L850.7,500.5L854.0,518.7ZM934.6,459.6L940.1,454.7L940.5,449.5L926.2,437.3L915.7,444.8L917.0,451.3ZM967.4,489.6L968.5,489.7L976.0,472.6L966.2,459.6L955.6,464.1L951.6,475.9ZM987.8,472.5L976.0,472.6L968.5,489.7L974.7,496.8L994.2,491.9L994.5,479.2ZM941.6,478.7L939.0,488.5L944.0,499.1L948.8,500.4L967.4,489.6L951.6,475.9ZM1004.8,394.3L1014.4,395.9L1015.6,394.3L1013.7,378.7L1011.6,376.3L999.0,385.5ZM1020.4,424.5L1023.9,424.5L1033.0,415.1L1033.1,408.4L1018.1,404.8L1011.3,413.4L1011.7,415.0ZM1052.0,464.6L1040.6,459.0L1029.3,468.1L1040.4,476.9L1051.5,471.6ZM1056.1,462.8L1052.0,464.6L1051.5,471.6L1058.5,483.3L1064.2,487.0L1071.8,480.8L1069.8,467.6ZM1040.4,476.9L1041.7,487.1L1058.5,483.3L1051.5,471.6ZM1065.1,493.1L1064.2,487.0L1058.5,483.3L1041.7,487.1L1039.8,490.8L1040.9,493.1L1054.0,500.2Z"/></defs><use href="#k38" fill="#fae38e" stroke="#fae38e" stroke-width="0.4"/>
<defs><path id="k39" d="M743.3,437.0L762.7,432.4L760.2,419.4L742.0,421.7L740.7,423.6L743.0,436.8ZM927.0,398.0L924.9,388.3L923.0,390.4L920.5,386.9L913.6,386.2L911.5,390.9L907.8,390.9L909.7,403.1L917.4,406.1ZM838.3,481.0L857.2,479.4L859.2,476.3L854.2,461.1L852.5,460.1L833.9,466.2ZM917.0,451.3L915.7,444.8L909.2,441.5L893.1,449.1L899.5,465.3L911.2,462.9ZM1011.6,376.3L1011.0,373.3L1010.6,373.3L1008.1,372.1L994.7,370.0L988.6,369.2L988.4,369.3L993.4,383.8L999.0,385.5ZM1027.1,383.7L1013.7,378.7L1015.6,394.3L1029.7,392.0ZM1040.0,394.6L1054.5,402.1L1058.4,400.7L1058.2,400.6L1054.8,394.6L1046.1,385.4L1044.5,383.9ZM1056.1,462.8L1069.8,467.6L1075.0,464.3L1076.7,455.5L1064.3,443.9L1058.0,442.3Z"/></defs><use href="#k39" fill="#cb5a3c" stroke="#cb5a3c" stroke-width="0.4"/>
<defs><path id="k40" d="M956.8,409.2L953.5,399.1L944.9,395.1L935.3,402.6L939.5,414.4L954.8,412.7ZM974.0,408.3L971.6,396.7L962.0,391.2L953.5,399.1L956.8,409.2ZM1041.7,487.1L1040.4,476.9L1029.3,468.1L1026.7,468.2L1021.8,485.4L1039.8,490.8ZM976.2,506.1L974.7,496.8L968.5,489.7L967.4,489.6L948.8,500.4L959.2,518.3L972.8,517.1Z"/></defs><use href="#k40" fill="#abcb9f" stroke="#abcb9f" stroke-width="0.4"/>
<g opacity="0.2" class="bd" stroke-dasharray="1.6,0.9"><use href="#k36"/></g>
<g opacity="0.32" class="bd"><use href="#k37"/><use href="#k38"/><use href="#k39"/><use href="#k40"/></g>
<defs><path id="k41" d="M770.1,477.1L791.6,473.8L787.2,456.7L766.6,460.2ZM812.6,470.0L833.2,465.7L827.2,448.1L807.4,452.7ZM892.0,448.3L910.5,442.0L901.4,425.6L883.7,431.6ZM910.5,442.0L928.1,435.2L918.3,419.1L901.4,425.6ZM795.6,489.2L817.4,485.4L812.6,470.0L791.6,473.8ZM817.4,485.4L838.8,481.0L833.2,465.7L812.6,470.0ZM859.7,475.7L879.9,469.4L872.9,454.5L853.4,460.5ZM879.9,469.4L899.5,463.0L892.0,448.3L872.9,454.5ZM770.1,477.1L766.6,460.2L730.0,465.2L732.8,482.0ZM773.3,492.4L770.1,477.1L732.8,482.0L735.5,497.2Z"/></defs><use href="#k41" fill="#e5a164" stroke="#e5a164" stroke-width="0.4"/>
<defs><path id="k42" d="M791.6,473.8L812.6,470.0L807.4,452.7L787.2,456.7ZM833.2,465.7L853.4,460.5L846.5,443.0L827.2,448.1ZM872.9,454.5L892.0,448.3L883.7,431.6L865.3,437.4ZM773.3,492.4L795.6,489.2L791.6,473.8L770.1,477.1Z"/></defs><use href="#k42" fill="#b9b9b9" stroke="#b9b9b9" stroke-width="0.4"/>
<defs><path id="k43" d="M853.4,460.5L872.9,454.5L865.3,437.4L846.5,443.0Z"/></defs><use href="#k43" fill="#fae38e" stroke="#fae38e" stroke-width="0.4"/>
<defs><path id="k44" d="M838.8,481.0L859.7,475.7L853.4,460.5L833.2,465.7ZM899.5,463.0L918.5,456.3L910.5,442.0L892.0,448.3Z"/></defs><use href="#k44" fill="#cb5a3c" stroke="#cb5a3c" stroke-width="0.4"/>
<g opacity="0.2" class="bd" stroke-dasharray="1.6,0.9"><use href="#k42"/></g>
<g opacity="0.32" class="bd"><use href="#k41"/><use href="#k43"/><use href="#k44"/></g>
<defs><path id="k45" d="M742.4,422.3L739.5,407.0L721.1,410.2L723.5,425.8ZM742.4,422.3L761.7,418.2L758.3,403.3L739.5,407.0ZM780.9,413.6L799.8,408.9L795.4,394.9L777.0,399.2ZM799.8,408.9L818.3,404.2L813.4,390.6L795.4,394.9ZM818.3,404.2L837.3,399.5L834.7,393.0L832.0,393.4L828.9,387.0L813.4,390.6ZM743.2,436.8L740.4,422.7L723.5,425.7L725.8,440.1ZM782.8,427.7L802.1,422.8L797.9,409.3L779.0,414.1ZM802.1,422.8L821.1,417.9L816.4,404.6L797.9,409.3ZM821.1,417.9L839.7,413.1L834.6,400.1L816.4,404.6ZM746.4,451.2L743.2,436.8L725.8,440.1L728.2,455.0ZM786.9,442.0L806.8,437.1L802.1,422.8L782.8,427.7ZM806.8,437.1L826.2,432.0L821.1,417.9L802.1,422.8ZM826.2,432.0L845.2,427.0L839.7,413.1L821.1,417.9ZM845.2,427.0L863.8,422.1L857.9,408.7L839.7,413.1ZM863.8,422.1L882.0,417.3L875.6,404.2L857.9,408.7ZM749.9,466.3L746.4,451.2L728.2,455.0L730.8,470.4ZM770.8,461.8L791.5,457.1L786.9,442.0L766.8,446.8ZM791.5,457.1L811.8,452.2L806.8,437.1L786.9,442.0ZM811.8,452.2L831.7,447.1L826.2,432.0L806.8,437.1ZM831.7,447.1L851.2,441.8L845.2,427.0L826.2,432.0ZM870.2,436.4L888.8,431.2L882.0,417.3L863.8,422.1Z"/></defs><use href="#k45" fill="#b9b9b9" stroke="#b9b9b9" stroke-width="0.4"/>
<defs><path id="k46" d="M761.7,418.2L780.9,413.6L777.0,399.2L758.3,403.3ZM763.1,432.5L782.8,427.7L779.0,414.1L759.8,418.6ZM746.4,451.2L766.8,446.8L763.1,432.5L743.2,436.8ZM766.8,446.8L786.9,442.0L782.8,427.7L763.1,432.5ZM749.9,466.3L770.8,461.8L766.8,446.8L746.4,451.2ZM851.2,441.8L870.2,436.4L863.8,422.1L845.2,427.0ZM888.8,431.2L906.8,426.1L899.6,412.5L882.0,417.3Z"/></defs><use href="#k46" fill="#e5a164" stroke="#e5a164" stroke-width="0.4"/>
<defs><path id="k47" d="M743.2,436.8L763.1,432.5L759.8,418.6L740.4,422.7Z"/></defs><use href="#k47" fill="#cb5a3c" stroke="#cb5a3c" stroke-width="0.4"/>
<defs><path id="k48" d="M882.0,417.3L899.6,412.5L892.8,399.7L875.6,404.2Z"/></defs><use href="#k48" fill="#fae38e" stroke="#fae38e" stroke-width="0.4"/>
<g opacity="0.2" class="bd" stroke-dasharray="1.6,0.9"><use href="#k45"/></g>
<g opacity="0.32" class="bd"><use href="#k46"/><use href="#k47"/><use href="#k48"/></g>
<defs><path id="k49" d="M744.5,368.9L741.9,357.8L713.1,363.3L715.0,374.5ZM744.5,368.9L761.9,365.1L758.8,354.3L755.0,355.1L741.9,357.8ZM761.9,365.1L779.2,361.2L775.6,350.7L758.8,354.3ZM779.2,361.2L796.4,357.0L792.4,346.8L775.6,350.7ZM796.4,357.0L813.4,352.7L808.9,342.8L792.4,346.8ZM747.4,380.8L744.5,368.9L715.0,374.5L717.1,386.7ZM783.1,372.6L800.9,368.1L796.4,357.0L779.2,361.2ZM800.9,368.1L818.4,363.6L818.4,363.5L813.4,352.7L796.4,357.0ZM750.3,393.0L747.4,380.8L717.1,386.7L719.2,399.0ZM768.7,388.8L787.1,384.3L783.1,372.6L765.3,376.9ZM805.4,379.5L823.3,374.8L818.4,363.6L800.9,368.1ZM772.4,401.7L791.4,396.9L787.1,384.3L768.7,388.8ZM791.4,396.9L810.3,391.9L805.4,379.5L787.1,384.3ZM810.3,391.9L828.9,386.9L827.2,383.5L823.3,374.8L805.4,379.5Z"/></defs><use href="#k49" fill="#b9b9b9" stroke="#b9b9b9" stroke-width="0.4"/>
<defs><path id="k50" d="M747.4,380.8L765.3,376.9L761.9,365.1L744.5,368.9ZM765.3,376.9L783.1,372.6L779.2,361.2L761.9,365.1ZM750.3,393.0L768.7,388.8L765.3,376.9L747.4,380.8ZM787.1,384.3L805.4,379.5L800.9,368.1L783.1,372.6ZM753.3,406.1L750.3,393.0L719.2,399.0L721.4,412.2Z"/></defs><use href="#k50" fill="#e5a164" stroke="#e5a164" stroke-width="0.4"/>
<defs><path id="k51" d="M753.3,406.1L772.4,401.7L768.7,388.8L750.3,393.0Z"/></defs><use href="#k51" fill="#fae38e" stroke="#fae38e" stroke-width="0.4"/>
<g opacity="0.2" class="bd" stroke-dasharray="1.6,0.9"><use href="#k49"/></g>
<g opacity="0.32" class="bd"><use href="#k50"/><use href="#k51"/></g>
<defs><path id="k52" d="M584.4,541.3L564.5,549.2L570.2,559.7L585.1,566.8L598.6,565.9L599.7,538.1ZM599.7,538.1L598.6,565.9L618.5,582.8L643.7,593.4L655.3,596.0L652.7,524.6ZM652.7,524.6L655.3,596.0L694.8,559.5L694.9,513.8ZM694.9,513.8L694.8,559.5L724.1,568.6L742.7,537.8L724.7,534.6L720.8,526.2L704.8,523.5ZM694.8,559.5L655.3,596.0L714.4,592.9L728.6,574.3L724.1,568.6ZM655.3,596.0L658.3,609.2L666.1,626.9L676.5,653.3L693.5,660.8L692.5,668.9L723.3,671.5L714.4,592.9ZM714.4,592.9L723.3,671.5L765.3,675.2L765.8,667.9L770.5,655.4L777.1,640.2L780.6,617.5L793.5,611.2L795.7,604.0L780.5,595.2L728.6,574.3ZM742.7,537.8L724.1,568.6L728.6,574.3L780.5,595.2L779.6,584.4L790.2,581.8L788.2,562.5L809.4,552.8L803.2,542.3L793.1,541.3L770.0,533.9L746.5,533.2ZM788.2,562.5L790.2,581.8L779.6,584.4L780.5,595.2L795.7,604.0L806.4,603.2L827.8,599.7L820.4,572.5L816.1,555.1L809.4,552.8ZM820.4,572.5L827.8,599.7L838.4,598.8L852.4,601.7L866.3,608.3L885.7,615.2L870.7,561.2ZM727.8,509.2L729.5,522.0L751.5,517.6L750.0,500.5ZM720.8,526.2L724.7,534.6L742.7,537.8L746.5,533.2L756.7,532.5L751.5,517.6L729.5,522.0ZM694.9,513.8L704.8,523.5L720.8,526.2L729.5,522.0L726.5,506.7Z"/></defs><use href="#k52" fill="#b9b9b9" stroke="#b9b9b9" stroke-width="0.4"/>
<g opacity="0.2" class="bd" stroke-dasharray="1.6,0.9"><use href="#k52"/></g>
<text x="735.4" y="394.5" font-size="14.6" textLength="52.9" lengthAdjust="spacingAndGlyphs" class="lh">Amarillo</text><text x="735.4" y="394.5" font-size="14.6" textLength="52.9" lengthAdjust="spacingAndGlyphs" class="lf">Amarillo</text>
<text x="947.6" y="419.4" font-size="14.6" textLength="37.4" lengthAdjust="spacingAndGlyphs" class="lh">Dallas</text><text x="947.6" y="419.4" font-size="14.6" textLength="37.4" lengthAdjust="spacingAndGlyphs" class="lf">Dallas</text>
<text x="1030.7" y="398.2" font-size="14.6" textLength="67.6" lengthAdjust="spacingAndGlyphs" class="lh">Shreveport</text><text x="1030.7" y="398.2" font-size="14.6" textLength="67.6" lengthAdjust="spacingAndGlyphs" class="lf">Shreveport</text>
<text x="579.5" y="417.8" font-size="14.6" textLength="53.7" lengthAdjust="spacingAndGlyphs" class="lh">Santa Fe</text><text x="579.5" y="417.8" font-size="14.6" textLength="53.7" lengthAdjust="spacingAndGlyphs" class="lf">Santa Fe</text>
</g>
</svg>
<div id="legend">
<div class="loc">LOCATION:<i style="display:inline-block;width:7px;height:2.2px;background:#222;margin-left:6.5px;position:relative;top:-3.2px"></i></div>
<div class="row" style="top:38px"><span>86.5 or more</span><i style="background:#1d5776"></i></div>
<div class="row" style="top:70px"><span>82.5 to less than 86.5</span><i style="background:#4f8ba0"></i></div>
<div class="row" style="top:102px"><span>78.5 to less than 82.5</span><i style="background:#abcb9f"></i></div>
<div class="row" style="top:134px"><span>74.5 to less than 78.5</span><i style="background:#fae38e"></i></div>
<div class="row" style="top:166px"><span>70.5 to less than 74.5</span><i style="background:#e5a164"></i></div>
<div class="row" style="top:198px"><span>less than 70.5</span><i style="background:#cb5a3c"></i></div>
<div class="row" style="top:230px"><span style="right:84px">Not Shown</span><i style="background:#b9b9b9"></i>
<svg style="position:absolute;left:123px;top:8px" width="18" height="18" viewBox="0 0 18 18"><circle cx="9" cy="9" r="8" fill="#8e9aa6"/><rect x="7.6" y="7.4" width="3" height="6" fill="#fff"/><rect x="6.6" y="7.4" width="2" height="1.4" fill="#fff"/><rect x="6.4" y="12.2" width="5.4" height="1.4" fill="#fff"/><circle cx="9" cy="4.9" r="1.6" fill="#fff"/></svg>
<div style="position:absolute;left:116px;top:27px;width:31px;border-top:1px dotted #555"></div>
</div>
</div>
<div class="tag" style="left:454px;width:105px"><span id="tf" style="margin-left:8px">FEMALES</span></div>
<div class="tag" style="left:950px;width:106px"><span id="tm" style="margin-left:8px">MALES</span></div>
<div id="zc">
<div style="top:38px"></div><div style="top:75px"></div>
<svg style="position:absolute;left:0;top:0" width="38" height="113" viewBox="0 0 38 113">
<path d="M12.9,19.8h12.4M19.1,13.6v12.4" stroke="#222" stroke-width="3.7" stroke-linecap="round"/>
<path d="M13.2,57.9h11.6" stroke="#222" stroke-width="3.7" stroke-linecap="round"/>
<path d="M13.6,85l9.2,7.5l-8.4,3.9z" fill="#222"/>
<path d="M23.6,96.4l-8,1.7l5.9,7.2z" fill="#bdbdbd"/>
</svg>
</div>
<div id="cl"><svg style="position:absolute;left:9px;top:4px;opacity:.85" width="17" height="17" viewBox="0 0 17 17"><circle cx="7" cy="7" r="5" fill="none" stroke="#fff" stroke-width="2.2"/><path d="M10.8,10.8l4.2,4.2" stroke="#fff" stroke-width="2.6" stroke-linecap="round"/><path d="M4.6,7h4.8" stroke="#fff" stroke-width="1.6"/></svg><span>County-Level</span></div>
</body></html>
